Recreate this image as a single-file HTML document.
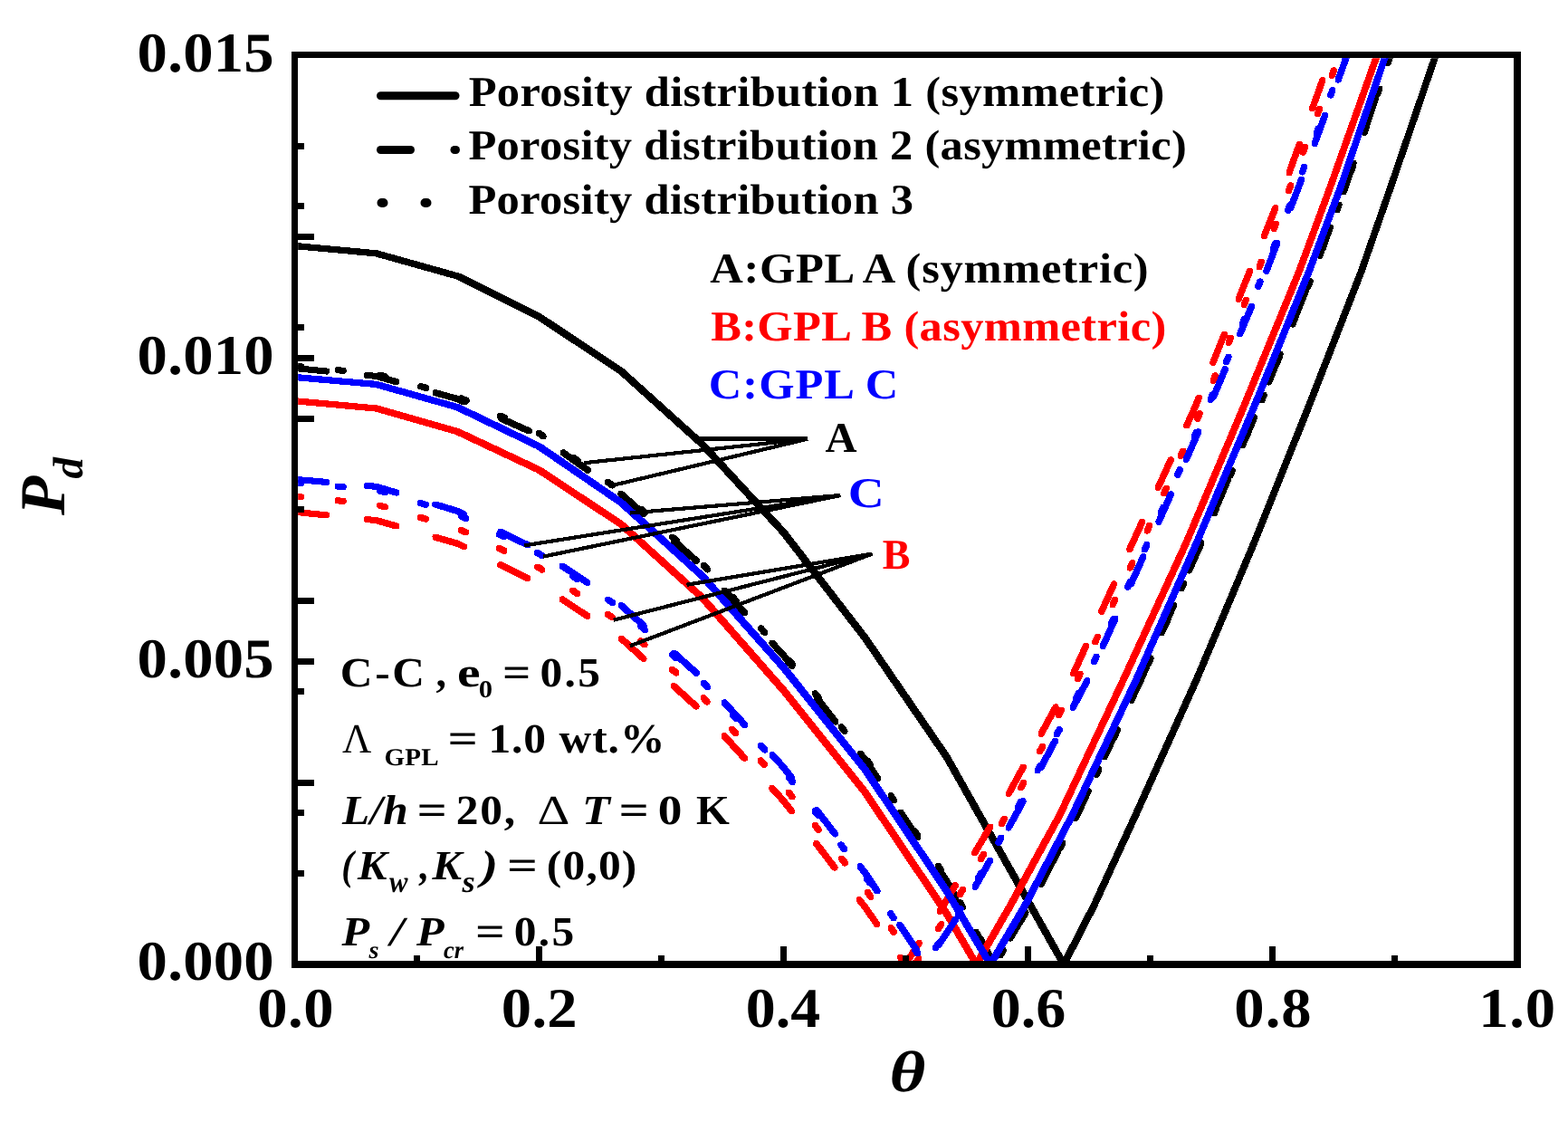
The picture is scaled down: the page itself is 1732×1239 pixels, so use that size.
<!DOCTYPE html>
<html lang="en"><head><meta charset="utf-8"><title>Pd versus theta</title>
<style>html,body{margin:0;padding:0;background:#fff;}svg{display:block;}</style></head>
<body>
<svg role="img" aria-label="Pd versus theta for three porosity distributions and three GPL patterns" width="1732" height="1239" viewBox="0 0 1732 1239" font-family="'Liberation Serif','DejaVu Serif',serif" text-rendering="geometricPrecision">
<rect width="1732" height="1239" fill="#fff"/>
<defs><clipPath id="plot"><rect x="329.2" y="64.2" width="1343.0" height="999.1"/></clipPath></defs>
<g clip-path="url(#plot)" stroke="none" shape-rendering="crispEdges">
<path d="M322.0,269.9 322.3,268.9 322.9,268.3 323.9,268.0 327.1,268.0 417.1,276.3 418.1,276.6 418.8,277.2 419.0,278.2 419.0,281.4 418.8,282.4 418.1,283.0 417.1,283.3 413.9,283.3 323.9,275.0 322.9,274.7 322.3,274.1 322.0,273.1ZM412.0,278.2 412.3,277.2 413.0,276.6 413.9,276.3 417.1,276.3 418.1,276.6 508.1,301.8 508.8,302.4 509.1,303.4 509.1,306.6 508.8,307.6 508.1,308.2 507.2,308.5 503.9,308.5 503.0,308.2 413.0,283.0 412.3,282.4 412.0,281.4ZM502.1,303.4 502.3,302.4 503.0,301.8 503.9,301.5 507.2,301.5 508.1,301.8 598.1,346.6 598.8,347.2 599.1,348.2 599.1,351.4 598.8,352.4 598.1,353.0 597.2,353.3 594.0,353.3 593.0,353.0 503.0,308.2 502.3,307.6 502.1,306.6ZM592.1,348.2 592.3,347.2 593.0,346.6 594.0,346.3 597.2,346.3 598.1,346.6 688.2,406.3 688.9,406.9 689.1,407.9 689.1,411.1 688.9,412.1 688.2,412.7 687.2,413.0 684.0,413.0 683.1,412.7 593.0,353.0 592.3,352.4 592.1,351.4ZM682.1,407.9 682.4,406.9 683.1,406.3 684.0,406.0 687.2,406.0 688.2,406.3 778.2,487.3 778.9,487.9 779.1,488.9 779.1,492.1 778.9,493.1 778.2,493.7 777.2,494.0 774.0,494.0 773.1,493.7 683.1,412.7 682.4,412.1 682.1,411.1ZM772.1,488.9 772.4,487.9 773.1,487.3 774.0,487.0 777.2,487.0 778.2,487.3 778.9,487.9 868.9,585.4 869.2,586.4 869.2,589.6 868.9,590.6 868.2,591.2 867.3,591.5 864.0,591.5 863.1,591.2 862.4,590.6 772.4,493.1 772.1,492.1ZM862.2,586.4 862.4,585.4 863.1,584.8 864.0,584.5 867.3,584.5 868.2,584.8 868.9,585.4 958.9,701.9 959.2,702.9 959.2,706.1 958.9,707.1 958.2,707.7 957.3,708.0 954.1,708.0 953.1,707.7 952.4,707.1 862.4,590.6 862.2,589.6ZM952.2,702.9 952.4,701.9 953.1,701.3 954.1,701.0 957.3,701.0 958.2,701.3 958.9,701.9 1049.0,833.4 1049.2,834.4 1049.2,837.6 1049.0,838.6 1048.3,839.2 1047.3,839.5 1044.1,839.5 1043.2,839.2 1042.5,838.6 952.4,707.1 952.2,706.1ZM1042.2,834.4 1042.5,833.4 1043.2,832.8 1044.1,832.5 1047.3,832.5 1048.3,832.8 1049.0,833.4 1178.2,1062.4 1178.5,1063.4 1178.5,1066.6 1178.2,1067.6 1177.6,1068.2 1176.6,1068.5 1173.4,1068.5 1172.4,1068.2 1171.8,1067.6 1042.5,838.6 1042.2,837.6ZM1171.5,1063.4 1171.8,1062.4 1205.2,997.4 1205.8,996.8 1206.8,996.5 1210.0,996.5 1211.0,996.8 1211.6,997.4 1211.9,998.4 1211.9,1001.6 1211.6,1002.6 1178.2,1067.6 1177.6,1068.2 1176.6,1068.5 1173.4,1068.5 1172.4,1068.2 1171.8,1067.6 1171.5,1066.6ZM1204.9,998.4 1205.2,997.4 1251.2,897.4 1251.8,896.8 1252.8,896.5 1256.0,896.5 1257.0,896.8 1257.6,897.4 1257.9,898.4 1257.9,901.6 1257.6,902.6 1211.6,1002.6 1211.0,1003.2 1210.0,1003.5 1206.8,1003.5 1205.8,1003.2 1205.2,1002.6 1204.9,1001.6ZM1250.9,898.4 1251.2,897.4 1318.7,747.4 1319.3,746.8 1320.3,746.5 1323.5,746.5 1324.5,746.8 1325.1,747.4 1325.4,748.4 1325.4,751.6 1325.1,752.6 1257.6,902.6 1257.0,903.2 1256.0,903.5 1252.8,903.5 1251.8,903.2 1251.2,902.6 1250.9,901.6ZM1318.4,748.4 1318.7,747.4 1381.8,597.4 1382.4,596.8 1383.4,596.5 1386.6,596.5 1387.6,596.8 1388.2,597.4 1388.5,598.4 1388.5,601.6 1388.2,602.6 1325.1,752.6 1324.5,753.2 1323.5,753.5 1320.3,753.5 1319.3,753.2 1318.7,752.6 1318.4,751.6ZM1381.5,598.4 1381.8,597.4 1441.9,447.4 1442.5,446.8 1443.5,446.5 1446.7,446.5 1447.7,446.8 1448.3,447.4 1448.6,448.4 1448.6,451.6 1448.3,452.6 1388.2,602.6 1387.6,603.2 1386.6,603.5 1383.4,603.5 1382.4,603.2 1381.8,602.6 1381.5,601.6ZM1441.6,448.4 1441.9,447.4 1500.4,297.4 1501.0,296.8 1502.0,296.5 1505.2,296.5 1506.2,296.8 1506.8,297.4 1507.1,298.4 1507.1,301.6 1506.8,302.6 1448.3,452.6 1447.7,453.2 1446.7,453.5 1443.5,453.5 1442.5,453.2 1441.9,452.6 1441.6,451.6ZM1500.1,298.4 1500.4,297.4 1532.8,204.4 1533.4,203.8 1534.4,203.5 1537.6,203.5 1538.6,203.8 1539.2,204.4 1539.5,205.4 1539.5,208.6 1539.2,209.6 1506.8,302.6 1506.2,303.2 1505.2,303.5 1502.0,303.5 1501.0,303.2 1500.4,302.6 1500.1,301.6ZM1532.5,205.4 1532.8,204.4 1581.6,61.4 1582.2,60.8 1583.2,60.5 1586.4,60.5 1587.4,60.8 1588.0,61.4 1588.3,62.4 1588.3,65.6 1588.0,66.6 1539.2,209.6 1538.6,210.2 1537.6,210.5 1534.4,210.5 1533.4,210.2 1532.8,209.6 1532.5,208.6ZM1581.3,62.4 1581.6,61.4 1596.6,17.4 1597.3,16.8 1598.2,16.5 1601.4,16.5 1602.4,16.8 1603.1,17.4 1603.3,18.4 1603.3,21.6 1603.1,22.6 1588.0,66.6 1587.4,67.2 1586.4,67.5 1583.2,67.5 1582.2,67.2 1581.6,66.6 1581.3,65.6Z" fill="#000"/>
<path d="M324.0,405.9 324.2,404.8 324.8,404.0 325.6,403.4 326.6,403.2 328.3,403.2 361.5,406.5 362.5,406.7 363.4,407.3 363.9,408.1 364.1,409.1 364.1,410.8 363.9,411.8 363.4,412.7 362.5,413.3 361.5,413.5 359.8,413.5 326.6,410.2 325.6,410.0 324.8,409.4 324.2,408.6 324.0,407.5ZM401.9,413.6 402.1,412.5 402.7,411.7 403.6,411.1 404.6,410.9 406.2,410.9 416.4,411.9 417.4,412.1 418.2,412.7 418.8,413.5 419.0,414.6 419.0,416.2 418.8,417.3 418.2,418.1 417.4,418.7 416.4,418.9 414.7,418.9 404.6,417.9 403.6,417.7 402.7,417.1 402.1,416.3 401.9,415.2ZM412.0,414.6 412.2,413.5 412.8,412.7 413.7,412.1 414.7,411.9 416.4,411.9 417.4,412.1 439.7,418.3 440.5,418.9 441.1,419.8 441.3,420.8 441.3,422.5 441.1,423.5 440.5,424.4 439.7,424.9 438.6,425.1 437.0,425.1 435.9,424.9 413.7,418.7 412.8,418.1 412.2,417.3 412.0,416.2ZM477.6,432.9 477.8,431.9 478.4,431.0 479.3,430.5 480.3,430.3 482.0,430.3 483.0,430.5 507.4,437.3 508.3,437.9 508.9,438.7 509.1,439.8 509.1,441.4 508.9,442.5 508.3,443.3 507.4,443.9 506.4,444.1 504.7,444.1 503.7,443.9 479.3,437.1 478.4,436.5 477.8,435.6 477.6,434.6ZM502.1,439.8 502.3,438.7 502.8,437.9 503.7,437.3 504.7,437.1 506.4,437.1 507.4,437.3 514.7,440.6 515.5,441.1 516.1,442.0 516.3,443.0 516.3,444.7 516.1,445.7 515.5,446.6 514.7,447.2 513.6,447.4 512.0,447.4 510.9,447.2 503.7,443.9 502.8,443.3 502.3,442.5 502.1,441.4ZM550.4,461.4 550.6,460.4 551.1,459.6 552.0,459.0 553.0,458.8 554.7,458.8 555.7,459.0 586.1,472.6 587.0,473.2 587.5,474.1 587.7,475.1 587.7,476.8 587.5,477.8 587.0,478.6 586.1,479.2 585.1,479.4 583.4,479.4 582.4,479.2 552.0,465.6 551.1,465.0 550.6,464.1 550.4,463.1ZM618.6,499.0 618.8,498.0 619.4,497.2 620.3,496.6 621.3,496.4 623.0,496.4 624.0,496.6 624.8,497.2 652.0,516.4 652.6,517.3 652.8,518.3 652.8,520.0 652.6,521.0 652.0,521.9 651.1,522.5 650.1,522.7 648.4,522.7 647.4,522.5 646.5,521.9 619.4,502.6 618.8,501.7 618.6,500.7ZM682.4,544.4 682.6,543.4 683.2,542.6 684.1,542.0 685.1,541.8 686.8,541.8 687.8,542.0 688.6,542.6 713.5,564.7 714.1,565.5 714.3,566.6 714.3,568.2 714.1,569.3 713.5,570.1 712.7,570.7 711.6,570.9 710.0,570.9 709.0,570.7 708.1,570.1 683.2,548.0 682.6,547.1 682.4,546.1ZM740.9,596.4 741.1,595.4 741.7,594.6 742.6,594.0 743.6,593.8 745.3,593.8 746.3,594.0 747.2,594.6 772.1,616.7 772.6,617.5 772.8,618.6 772.8,620.2 772.6,621.3 772.1,622.1 771.2,622.7 770.2,622.9 768.5,622.9 767.5,622.7 766.6,622.1 741.7,600.0 741.1,599.1 740.9,598.1ZM796.7,651.2 796.9,650.2 797.5,649.3 798.4,648.8 799.4,648.6 801.1,648.6 802.1,648.8 803.0,649.3 825.4,674.0 825.9,674.8 826.1,675.9 826.1,677.5 825.9,678.6 825.4,679.4 824.5,680.0 823.5,680.2 821.8,680.2 820.8,680.0 819.9,679.4 797.5,654.8 796.9,653.9 796.7,652.9ZM849.4,709.2 849.6,708.1 850.2,707.3 851.1,706.7 852.1,706.5 853.8,706.5 854.8,706.7 855.6,707.3 868.4,721.3 869.0,722.1 869.2,723.2 869.2,724.8 869.0,725.9 868.4,726.7 867.5,727.3 866.5,727.5 864.8,727.5 863.8,727.3 862.9,726.7 850.2,712.7 849.6,711.9 849.4,710.8ZM862.2,723.2 862.4,722.1 862.9,721.3 863.8,720.7 864.8,720.5 866.5,720.5 867.5,720.7 868.4,721.3 877.2,732.6 877.8,733.5 878.0,734.5 878.0,736.2 877.8,737.2 877.2,738.0 876.4,738.6 875.4,738.8 873.7,738.8 872.7,738.6 871.8,738.0 862.9,726.7 862.4,725.9 862.2,724.8ZM898.8,769.9 899.0,768.9 899.5,768.0 900.4,767.4 901.4,767.2 903.1,767.2 904.1,767.4 905.0,768.0 925.5,794.2 926.1,795.1 926.3,796.1 926.3,797.8 926.1,798.8 925.5,799.7 924.6,800.3 923.6,800.5 921.9,800.5 920.9,800.3 920.1,799.7 899.5,773.5 899.0,772.6 898.8,771.6ZM947.0,831.6 947.2,830.5 947.8,829.7 948.7,829.1 949.7,828.9 951.4,828.9 952.4,829.1 953.2,829.7 958.4,836.3 959.0,837.1 959.2,838.2 959.2,839.8 959.0,840.9 958.4,841.7 957.5,842.3 956.5,842.5 954.8,842.5 953.8,842.3 953.0,841.7 947.8,835.1 947.2,834.3 947.0,833.2ZM952.2,838.2 952.4,837.1 953.0,836.3 953.8,835.7 954.8,835.5 956.5,835.5 957.5,835.7 958.4,836.3 972.3,857.0 972.9,857.8 973.1,858.8 973.1,860.5 972.9,861.5 972.3,862.4 971.4,863.0 970.4,863.2 968.7,863.2 967.7,863.0 966.9,862.4 953.0,841.7 952.4,840.9 952.2,839.8ZM991.2,896.2 991.4,895.2 992.0,894.3 992.8,893.7 993.8,893.5 995.5,893.5 996.5,893.7 997.4,894.3 1016.0,922.0 1016.5,922.8 1016.7,923.8 1016.7,925.5 1016.5,926.5 1016.0,927.4 1015.1,928.0 1014.1,928.2 1012.4,928.2 1011.4,928.0 1010.5,927.4 992.0,899.8 991.4,898.9 991.2,897.9ZM1034.8,961.2 1035.0,960.2 1035.6,959.3 1036.5,958.7 1037.5,958.5 1039.2,958.5 1040.2,958.7 1041.1,959.3 1048.4,970.3 1049.0,971.1 1049.2,972.2 1049.2,973.8 1049.0,974.9 1048.4,975.7 1047.6,976.3 1046.6,976.5 1044.9,976.5 1043.9,976.3 1043.0,975.7 1035.6,964.8 1035.0,963.9 1034.8,962.9ZM1042.2,972.2 1042.4,971.1 1043.0,970.3 1043.9,969.7 1044.9,969.5 1046.6,969.5 1047.6,969.7 1048.4,970.3 1049.0,971.1 1059.0,988.6 1059.2,989.6 1059.2,991.3 1059.0,992.3 1058.4,993.1 1057.6,993.7 1056.6,993.9 1054.9,993.9 1053.9,993.7 1053.0,993.1 1052.4,992.3 1042.4,974.9 1042.2,973.8ZM1074.7,1028.6 1074.9,1027.6 1075.4,1026.7 1076.3,1026.1 1077.3,1025.9 1079.0,1025.9 1080.0,1026.1 1080.9,1026.7 1081.5,1027.6 1098.1,1056.4 1098.3,1057.4 1098.3,1059.1 1098.1,1060.1 1097.5,1061.0 1096.6,1061.6 1095.6,1061.8 1093.9,1061.8 1092.9,1061.6 1092.0,1061.0 1091.5,1060.1 1074.9,1031.3 1074.7,1030.3ZM1112.4,1035.2 1112.6,1034.1 1129.7,1005.5 1130.3,1004.7 1131.1,1004.1 1132.1,1003.9 1133.8,1003.9 1134.8,1004.1 1135.7,1004.7 1136.3,1005.5 1136.5,1006.6 1136.5,1008.2 1136.3,1009.3 1119.2,1037.9 1118.6,1038.7 1117.8,1039.3 1116.8,1039.5 1115.1,1039.5 1114.1,1039.3 1113.2,1038.7 1112.6,1037.9 1112.4,1036.8ZM1149.4,969.6 1149.6,968.6 1165.0,939.0 1165.6,938.2 1166.4,937.6 1167.5,937.4 1169.1,937.4 1170.2,937.6 1171.0,938.2 1171.6,939.0 1171.8,940.1 1171.8,941.7 1171.6,942.8 1156.2,972.3 1155.6,973.1 1154.7,973.7 1153.7,973.9 1152.0,973.9 1151.0,973.7 1150.2,973.1 1149.6,972.3 1149.4,971.3ZM1184.3,902.9 1184.5,901.8 1186.4,898.1 1187.0,897.3 1187.8,896.7 1188.9,896.5 1190.5,896.5 1191.6,896.7 1192.4,897.3 1193.0,898.1 1193.2,899.2 1193.2,900.8 1193.0,901.9 1191.1,905.5 1190.5,906.4 1189.6,907.0 1188.6,907.2 1186.9,907.2 1185.9,907.0 1185.0,906.4 1184.5,905.5 1184.3,904.5ZM1186.2,899.2 1186.4,898.1 1198.8,871.8 1199.4,870.9 1200.3,870.4 1201.3,870.2 1203.0,870.2 1204.0,870.4 1204.9,870.9 1205.4,871.8 1205.6,872.8 1205.6,874.5 1205.4,875.5 1193.0,901.9 1192.4,902.7 1191.6,903.3 1190.5,903.5 1188.9,903.5 1187.8,903.3 1187.0,902.7 1186.4,901.9 1186.2,900.8ZM1216.6,834.8 1216.8,833.8 1231.0,803.7 1231.6,802.8 1232.4,802.3 1233.4,802.1 1235.1,802.1 1236.1,802.3 1237.0,802.8 1237.6,803.7 1237.8,804.7 1237.8,806.4 1237.6,807.4 1223.4,837.5 1222.8,838.4 1221.9,839.0 1220.9,839.2 1219.2,839.2 1218.2,839.0 1217.3,838.4 1216.8,837.5 1216.6,836.5ZM1248.7,766.7 1248.9,765.7 1257.2,748.1 1257.8,747.3 1258.6,746.7 1259.7,746.5 1261.3,746.5 1262.4,746.7 1263.2,747.3 1263.8,748.1 1264.0,749.2 1264.0,750.8 1263.8,751.9 1255.5,769.4 1254.9,770.3 1254.1,770.9 1253.0,771.1 1251.4,771.1 1250.3,770.9 1249.5,770.3 1248.9,769.4 1248.7,768.4ZM1257.0,749.2 1257.2,748.1 1262.8,735.5 1263.4,734.6 1264.2,734.0 1265.3,733.8 1266.9,733.8 1268.0,734.0 1268.8,734.6 1269.4,735.5 1269.6,736.5 1269.6,738.2 1269.4,739.2 1263.8,751.9 1263.2,752.7 1262.4,753.3 1261.3,753.5 1259.7,753.5 1258.6,753.3 1257.8,752.7 1257.2,751.9 1257.0,750.8ZM1279.6,698.0 1279.8,697.0 1293.2,666.6 1293.8,665.7 1294.6,665.1 1295.7,664.9 1297.3,664.9 1298.4,665.1 1299.2,665.7 1299.8,666.6 1300.0,667.6 1300.0,669.3 1299.8,670.3 1286.4,700.7 1285.8,701.6 1284.9,702.2 1283.9,702.4 1282.2,702.4 1281.2,702.2 1280.3,701.6 1279.8,700.7 1279.6,699.7ZM1310.0,629.2 1310.2,628.1 1323.4,598.1 1324.0,597.3 1324.8,596.7 1325.9,596.5 1327.5,596.5 1328.6,596.7 1329.4,597.3 1330.0,598.1 1330.2,599.2 1330.2,600.8 1330.0,601.9 1316.8,631.9 1316.2,632.7 1315.3,633.3 1314.3,633.5 1312.6,633.5 1311.6,633.3 1310.7,632.7 1310.2,631.9 1310.0,630.8ZM1323.2,599.2 1323.4,598.1 1323.6,597.7 1324.2,596.8 1325.0,596.2 1326.1,596.0 1327.7,596.0 1328.8,596.2 1329.6,596.8 1330.2,597.7 1330.4,598.7 1330.4,600.4 1330.2,601.4 1330.0,601.9 1329.4,602.7 1328.6,603.3 1327.5,603.5 1325.9,603.5 1324.8,603.3 1324.0,602.7 1323.4,601.9 1323.2,600.8ZM1339.7,560.0 1340.0,559.0 1352.9,528.3 1353.5,527.5 1354.4,526.9 1355.4,526.7 1357.1,526.7 1358.1,526.9 1358.9,527.5 1359.5,528.3 1359.7,529.3 1359.7,531.0 1359.5,532.0 1346.5,562.7 1346.0,563.6 1345.1,564.1 1344.1,564.3 1342.4,564.3 1341.4,564.1 1340.5,563.6 1340.0,562.7 1339.7,561.7ZM1369.1,490.6 1369.3,489.6 1382.2,459.0 1382.8,458.1 1383.7,457.5 1384.7,457.3 1386.4,457.3 1387.4,457.5 1388.2,458.1 1388.8,459.0 1389.0,460.0 1389.0,461.7 1388.8,462.7 1375.9,493.3 1375.3,494.2 1374.4,494.8 1373.4,495.0 1371.7,495.0 1370.7,494.8 1369.8,494.2 1369.3,493.3 1369.1,492.3ZM1398.0,421.1 1398.2,420.1 1410.7,389.3 1411.3,388.4 1412.2,387.8 1413.2,387.6 1414.8,387.6 1415.9,387.8 1416.7,388.4 1417.3,389.3 1417.5,390.3 1417.5,391.9 1417.3,393.0 1404.8,423.8 1404.2,424.7 1403.3,425.3 1402.3,425.5 1400.6,425.5 1399.6,425.3 1398.8,424.7 1398.2,423.8 1398.0,422.8ZM1426.3,351.4 1426.5,350.3 1439.0,319.5 1439.6,318.6 1440.5,318.0 1441.5,317.8 1443.2,317.8 1444.2,318.0 1445.1,318.6 1445.6,319.5 1445.8,320.5 1445.8,322.2 1445.6,323.2 1433.1,354.1 1432.5,354.9 1431.7,355.5 1430.6,355.7 1429.0,355.7 1428.0,355.5 1427.1,354.9 1426.5,354.1 1426.3,353.0ZM1454.2,281.4 1454.4,280.4 1466.1,249.2 1466.6,248.3 1467.5,247.8 1468.5,247.6 1470.2,247.6 1471.2,247.8 1472.1,248.3 1472.7,249.2 1472.9,250.2 1472.9,251.9 1472.7,252.9 1461.0,284.1 1460.4,285.0 1459.5,285.5 1458.5,285.7 1456.8,285.7 1455.8,285.5 1454.9,285.0 1454.4,284.1 1454.2,283.1ZM1480.6,210.9 1480.8,209.9 1482.6,205.1 1483.2,204.3 1484.0,203.7 1485.1,203.5 1486.7,203.5 1487.8,203.7 1488.6,204.3 1489.2,205.1 1489.4,206.2 1489.4,207.8 1489.2,208.9 1487.4,213.6 1486.8,214.5 1486.0,215.0 1485.0,215.2 1483.3,215.2 1482.3,215.0 1481.4,214.5 1480.8,213.6 1480.6,212.6ZM1482.4,206.2 1482.6,205.1 1491.7,178.4 1492.3,177.6 1493.2,177.0 1494.2,176.8 1495.9,176.8 1496.9,177.0 1497.8,177.6 1498.3,178.4 1498.5,179.4 1498.5,181.1 1498.3,182.1 1489.2,208.9 1488.6,209.7 1487.8,210.3 1486.7,210.5 1485.1,210.5 1484.0,210.3 1483.2,209.7 1482.6,208.9 1482.4,207.8ZM1505.1,139.7 1505.3,138.7 1516.1,107.2 1516.7,106.3 1517.5,105.7 1518.6,105.5 1520.2,105.5 1521.3,105.7 1522.1,106.3 1522.7,107.2 1522.9,108.2 1522.9,109.9 1522.7,110.9 1511.9,142.4 1511.3,143.3 1510.5,143.8 1509.5,144.0 1507.8,144.0 1506.8,143.8 1505.9,143.3 1505.3,142.4 1505.1,141.4ZM1529.5,68.5 1529.7,67.4 1531.5,62.1 1532.1,61.3 1532.9,60.7 1534.0,60.5 1535.6,60.5 1536.7,60.7 1537.5,61.3 1538.1,62.1 1538.3,63.2 1538.3,64.8 1538.1,65.9 1536.3,71.2 1535.7,72.0 1534.8,72.6 1533.8,72.8 1532.2,72.8 1531.1,72.6 1530.3,72.0 1529.7,71.2 1529.5,70.1ZM1531.3,63.2 1531.5,62.1 1540.5,35.9 1541.0,35.1 1541.9,34.5 1542.9,34.3 1544.6,34.3 1545.6,34.5 1546.5,35.1 1547.1,35.9 1547.3,36.9 1547.3,38.6 1547.1,39.6 1538.1,65.9 1537.5,66.7 1536.7,67.3 1535.6,67.5 1534.0,67.5 1532.9,67.3 1532.1,66.7 1531.5,65.9 1531.3,64.8Z" fill="#000"/>
<path d="M323.0,403.3 323.2,402.2 323.8,401.4 324.6,400.8 325.7,400.6 327.3,400.6 333.3,401.2 334.3,401.4 335.2,402.0 335.8,402.8 336.0,403.8 336.0,405.5 335.8,406.5 335.2,407.4 334.3,408.0 333.3,408.2 331.6,408.2 325.7,407.6 324.6,407.4 323.8,406.8 323.2,406.0 323.0,404.9ZM369.6,407.9 369.8,406.9 370.4,406.0 371.3,405.4 372.3,405.2 374.0,405.2 379.9,405.8 380.9,406.0 381.8,406.6 382.4,407.4 382.6,408.5 382.6,410.1 382.4,411.2 381.8,412.0 380.9,412.6 379.9,412.8 378.2,412.8 372.3,412.2 371.3,412.0 370.4,411.4 369.8,410.6 369.6,409.5ZM416.1,413.2 416.3,412.2 416.9,411.3 417.7,410.7 418.8,410.5 420.4,410.5 421.5,410.7 427.2,412.4 428.1,412.9 428.7,413.8 428.9,414.8 428.9,416.5 428.7,417.5 428.1,418.4 427.2,419.0 426.2,419.2 424.5,419.2 423.5,419.0 417.7,417.3 416.9,416.8 416.3,415.9 416.1,414.9ZM461.2,425.8 461.4,424.8 462.0,423.9 462.9,423.4 463.9,423.2 465.6,423.2 466.6,423.4 472.4,425.0 473.2,425.6 473.8,426.4 474.0,427.4 474.0,429.1 473.8,430.1 473.2,431.0 472.4,431.6 471.3,431.8 469.7,431.8 468.6,431.6 462.9,430.0 462.0,429.4 461.4,428.5 461.2,427.5ZM506.1,439.1 506.3,438.1 506.9,437.2 507.8,436.6 508.8,436.4 510.5,436.4 511.5,436.6 516.9,439.1 517.8,439.7 518.4,440.5 518.6,441.5 518.6,443.2 518.4,444.2 517.8,445.1 516.9,445.7 515.9,445.9 514.2,445.9 513.2,445.7 507.8,443.2 506.9,442.6 506.3,441.8 506.1,440.8ZM548.9,458.3 549.1,457.2 549.6,456.4 550.5,455.8 551.5,455.6 553.2,455.6 554.2,455.8 559.7,458.3 560.5,458.8 561.1,459.7 561.3,460.7 561.3,462.4 561.1,463.4 560.5,464.3 559.7,464.9 558.7,465.1 557.0,465.1 556.0,464.9 550.5,462.4 549.6,461.8 549.1,461.0 548.9,459.9ZM591.6,477.4 591.8,476.4 592.4,475.6 593.2,475.0 594.3,474.8 595.9,474.8 597.0,475.0 597.4,475.2 598.3,475.8 598.9,476.6 599.1,477.7 599.1,479.3 598.9,480.4 598.3,481.2 597.4,481.8 596.4,482.0 594.7,482.0 593.7,481.8 593.2,481.6 592.4,481.0 591.8,480.1 591.6,479.1ZM592.1,477.7 592.3,476.6 592.9,475.8 593.7,475.2 594.7,475.0 596.4,475.0 597.4,475.2 598.3,475.8 602.8,478.9 603.3,479.8 603.5,480.8 603.5,482.5 603.3,483.5 602.8,484.4 601.9,485.0 600.9,485.2 599.2,485.2 598.2,485.0 597.3,484.4 592.9,481.2 592.3,480.4 592.1,479.3ZM629.8,504.5 630.0,503.5 630.6,502.6 631.5,502.0 632.5,501.8 634.2,501.8 635.2,502.0 636.1,502.6 640.9,506.1 641.5,507.0 641.7,508.0 641.7,509.7 641.5,510.7 640.9,511.5 640.1,512.1 639.1,512.3 637.4,512.3 636.4,512.1 635.5,511.5 630.6,508.1 630.0,507.2 629.8,506.2ZM668.0,531.6 668.2,530.6 668.8,529.8 669.7,529.2 670.7,529.0 672.4,529.0 673.4,529.2 674.2,529.8 679.1,533.2 679.7,534.1 679.9,535.1 679.9,536.8 679.7,537.8 679.1,538.7 678.3,539.3 677.2,539.5 675.6,539.5 674.5,539.3 673.7,538.7 668.8,535.2 668.2,534.3 668.0,533.3ZM704.2,561.3 704.4,560.3 705.0,559.4 705.8,558.8 706.9,558.6 708.5,558.6 709.6,558.8 710.4,559.4 714.9,563.4 715.5,564.3 715.7,565.3 715.7,567.0 715.5,568.0 714.9,568.8 714.0,569.4 713.0,569.6 711.4,569.6 710.3,569.4 709.5,568.8 705.0,564.9 704.4,564.0 704.2,563.0ZM739.2,592.4 739.4,591.4 740.0,590.5 740.9,590.0 741.9,589.8 743.6,589.8 744.6,590.0 745.4,590.5 749.9,594.5 750.5,595.4 750.7,596.4 750.7,598.1 750.5,599.1 749.9,600.0 749.1,600.5 748.1,600.7 746.4,600.7 745.4,600.5 744.5,600.0 740.0,596.0 739.4,595.1 739.2,594.1ZM774.0,623.8 774.2,622.7 774.8,621.9 775.7,621.3 776.7,621.1 778.4,621.1 779.4,621.3 780.3,621.9 784.3,626.3 784.9,627.2 785.1,628.2 785.1,629.9 784.9,630.9 784.3,631.8 783.4,632.3 782.4,632.5 780.7,632.5 779.7,632.3 778.9,631.8 774.8,627.3 774.2,626.5 774.0,625.4ZM805.6,658.4 805.8,657.4 806.3,656.5 807.2,656.0 808.2,655.8 809.9,655.8 810.9,656.0 811.8,656.5 815.8,661.0 816.4,661.8 816.6,662.9 816.6,664.5 816.4,665.6 815.8,666.4 815.0,667.0 813.9,667.2 812.3,667.2 811.2,667.0 810.4,666.4 806.3,662.0 805.8,661.1 805.6,660.1ZM837.1,693.1 837.3,692.1 837.9,691.2 838.7,690.6 839.7,690.4 841.4,690.4 842.4,690.6 843.3,691.2 847.3,695.6 847.9,696.5 848.1,697.5 848.1,699.2 847.9,700.2 847.3,701.1 846.5,701.7 845.5,701.9 843.8,701.9 842.8,701.7 841.9,701.1 837.9,696.6 837.3,695.8 837.1,694.8ZM868.1,728.2 868.3,727.2 868.8,726.3 869.7,725.7 870.7,725.5 872.4,725.5 873.4,725.7 874.3,726.3 878.0,731.0 878.6,731.9 878.8,732.9 878.8,734.6 878.6,735.6 878.0,736.5 877.1,737.1 876.1,737.3 874.4,737.3 873.4,737.1 872.5,736.5 868.8,731.8 868.3,730.9 868.1,729.9ZM896.9,765.1 897.1,764.1 897.7,763.2 898.6,762.6 899.6,762.4 901.3,762.4 902.3,762.6 903.2,763.2 906.9,767.9 907.4,768.8 907.6,769.8 907.6,771.5 907.4,772.5 906.9,773.4 906.0,773.9 905.0,774.1 903.3,774.1 902.3,773.9 901.4,773.4 897.7,768.6 897.1,767.8 896.9,766.8ZM925.8,802.0 926.0,801.0 926.6,800.1 927.5,799.5 928.5,799.3 930.2,799.3 931.2,799.5 932.0,800.1 935.7,804.8 936.3,805.7 936.5,806.7 936.5,808.4 936.3,809.4 935.7,810.3 934.9,810.8 933.9,811.0 932.2,811.0 931.2,810.8 930.3,810.3 926.6,805.5 926.0,804.7 925.8,803.7ZM954.5,839.0 954.7,838.0 955.2,837.2 956.1,836.6 957.1,836.4 958.8,836.4 959.8,836.6 960.7,837.2 964.0,842.1 964.6,843.0 964.8,844.0 964.8,845.7 964.6,846.7 964.0,847.6 963.2,848.2 962.1,848.4 960.5,848.4 959.4,848.2 958.6,847.6 955.2,842.6 954.7,841.7 954.5,840.7ZM980.6,877.9 980.8,876.9 981.4,876.0 982.2,875.5 983.2,875.3 984.9,875.3 985.9,875.5 986.8,876.0 990.1,881.0 990.7,881.9 990.9,882.9 990.9,884.6 990.7,885.6 990.1,886.5 989.3,887.0 988.3,887.2 986.6,887.2 985.6,887.0 984.7,886.5 981.4,881.5 980.8,880.6 980.6,879.6ZM1006.7,916.8 1006.9,915.8 1007.5,914.9 1008.4,914.4 1009.4,914.2 1011.0,914.2 1012.1,914.4 1012.9,914.9 1016.3,919.9 1016.9,920.8 1017.1,921.8 1017.1,923.5 1016.9,924.5 1016.3,925.4 1015.4,925.9 1014.4,926.1 1012.7,926.1 1011.7,925.9 1010.8,925.4 1007.5,920.4 1006.9,919.5 1006.7,918.5ZM1032.8,955.7 1033.0,954.7 1033.6,953.8 1034.5,953.2 1035.5,953.0 1037.2,953.0 1038.2,953.2 1039.1,953.8 1042.4,958.8 1043.0,959.7 1043.2,960.7 1043.2,962.4 1043.0,963.4 1042.4,964.2 1041.5,964.8 1040.5,965.0 1038.8,965.0 1037.8,964.8 1037.0,964.2 1033.6,959.3 1033.0,958.4 1032.8,957.4ZM1056.9,995.8 1057.1,994.8 1057.7,994.0 1058.6,993.4 1059.6,993.2 1061.3,993.2 1062.3,993.4 1063.2,994.0 1063.7,994.8 1066.7,1000.0 1066.9,1001.1 1066.9,1002.7 1066.7,1003.8 1066.1,1004.6 1065.2,1005.2 1064.2,1005.4 1062.5,1005.4 1061.5,1005.2 1060.7,1004.6 1060.1,1003.8 1057.1,998.5 1056.9,997.5ZM1079.9,1036.7 1080.1,1035.7 1080.7,1034.8 1081.5,1034.2 1082.6,1034.0 1084.2,1034.0 1085.3,1034.2 1086.1,1034.8 1086.7,1035.7 1089.6,1040.9 1089.8,1041.9 1089.8,1043.6 1089.6,1044.6 1089.1,1045.5 1088.2,1046.0 1087.2,1046.2 1085.5,1046.2 1084.5,1046.0 1083.6,1045.5 1083.0,1044.6 1080.1,1039.4 1079.9,1038.4ZM1101.6,1053.7 1101.8,1052.7 1104.9,1047.6 1105.5,1046.7 1106.3,1046.1 1107.3,1045.9 1109.0,1045.9 1110.0,1046.1 1110.9,1046.7 1111.5,1047.6 1111.7,1048.6 1111.7,1050.3 1111.5,1051.3 1108.4,1056.4 1107.8,1057.3 1107.0,1057.9 1105.9,1058.1 1104.3,1058.1 1103.2,1057.9 1102.4,1057.3 1101.8,1056.4 1101.6,1055.4ZM1124.8,1015.0 1125.0,1013.9 1128.1,1008.8 1128.7,1007.9 1129.6,1007.4 1130.6,1007.2 1132.3,1007.2 1133.3,1007.4 1134.1,1007.9 1134.7,1008.8 1134.9,1009.8 1134.9,1011.5 1134.7,1012.5 1131.6,1017.7 1131.1,1018.5 1130.2,1019.1 1129.2,1019.3 1127.5,1019.3 1126.5,1019.1 1125.6,1018.5 1125.0,1017.7 1124.8,1016.6ZM1146.7,975.4 1146.9,974.4 1149.7,969.1 1150.3,968.2 1151.1,967.7 1152.2,967.5 1153.8,967.5 1154.9,967.7 1155.7,968.2 1156.3,969.1 1156.5,970.1 1156.5,971.8 1156.3,972.8 1153.5,978.1 1152.9,979.0 1152.1,979.6 1151.1,979.8 1149.4,979.8 1148.4,979.6 1147.5,979.0 1146.9,978.1 1146.7,977.1ZM1167.7,935.4 1167.9,934.4 1170.6,929.0 1171.2,928.2 1172.1,927.6 1173.1,927.4 1174.8,927.4 1175.8,927.6 1176.7,928.2 1177.2,929.0 1177.4,930.1 1177.4,931.7 1177.2,932.8 1174.5,938.1 1173.9,938.9 1173.0,939.5 1172.0,939.7 1170.3,939.7 1169.3,939.5 1168.4,938.9 1167.9,938.1 1167.7,937.1ZM1188.4,895.2 1188.7,894.2 1191.2,888.8 1191.8,887.9 1192.7,887.4 1193.7,887.2 1195.3,887.2 1196.4,887.4 1197.2,887.9 1197.8,888.8 1198.0,889.8 1198.0,891.5 1197.8,892.5 1195.2,897.9 1194.7,898.8 1193.8,899.4 1192.8,899.6 1191.1,899.6 1190.1,899.4 1189.2,898.8 1188.7,897.9 1188.4,896.9ZM1207.7,854.4 1207.9,853.3 1210.5,847.9 1211.1,847.1 1211.9,846.5 1213.0,846.3 1214.6,846.3 1215.7,846.5 1216.5,847.1 1217.1,847.9 1217.3,848.9 1217.3,850.6 1217.1,851.6 1214.5,857.1 1214.0,857.9 1213.1,858.5 1212.1,858.7 1210.4,858.7 1209.4,858.5 1208.5,857.9 1207.9,857.1 1207.7,856.0ZM1227.0,813.5 1227.2,812.5 1229.8,807.0 1230.4,806.2 1231.2,805.6 1232.3,805.4 1233.9,805.4 1235.0,805.6 1235.8,806.2 1236.4,807.0 1236.6,808.1 1236.6,809.7 1236.4,810.8 1233.8,816.2 1233.3,817.1 1232.4,817.6 1231.4,817.8 1229.7,817.8 1228.7,817.6 1227.8,817.1 1227.2,816.2 1227.0,815.2ZM1246.3,772.6 1246.5,771.6 1249.1,766.2 1249.7,765.3 1250.5,764.7 1251.5,764.5 1253.2,764.5 1254.2,764.7 1255.1,765.3 1255.7,766.2 1255.9,767.2 1255.9,768.9 1255.7,769.9 1253.1,775.3 1252.5,776.2 1251.7,776.8 1250.7,777.0 1249.0,777.0 1248.0,776.8 1247.1,776.2 1246.5,775.3 1246.3,774.3ZM1265.2,731.5 1265.4,730.5 1267.8,725.0 1268.4,724.2 1269.2,723.6 1270.3,723.4 1271.9,723.4 1273.0,723.6 1273.8,724.2 1274.4,725.0 1274.6,726.0 1274.6,727.7 1274.4,728.7 1272.0,734.2 1271.4,735.1 1270.5,735.7 1269.5,735.9 1267.8,735.9 1266.8,735.7 1266.0,735.1 1265.4,734.2 1265.2,733.2ZM1283.4,690.2 1283.6,689.2 1286.1,683.7 1286.6,682.8 1287.5,682.2 1288.5,682.0 1290.2,682.0 1291.2,682.2 1292.1,682.8 1292.6,683.7 1292.8,684.7 1292.8,686.4 1292.6,687.4 1290.2,692.9 1289.6,693.7 1288.8,694.3 1287.8,694.5 1286.1,694.5 1285.1,694.3 1284.2,693.7 1283.6,692.9 1283.4,691.9ZM1301.7,648.8 1301.9,647.8 1304.3,642.3 1304.9,641.5 1305.7,640.9 1306.8,640.7 1308.4,640.7 1309.5,640.9 1310.3,641.5 1310.9,642.3 1311.1,643.3 1311.1,645.0 1310.9,646.0 1308.5,651.5 1307.9,652.4 1307.0,653.0 1306.0,653.2 1304.3,653.2 1303.3,653.0 1302.5,652.4 1301.9,651.5 1301.7,650.5ZM1319.9,607.5 1320.1,606.5 1322.6,601.0 1323.1,600.1 1324.0,599.5 1325.0,599.3 1326.7,599.3 1327.7,599.5 1328.6,600.1 1329.1,601.0 1329.3,602.0 1329.3,603.7 1329.1,604.7 1326.7,610.2 1326.1,611.0 1325.3,611.6 1324.3,611.8 1322.6,611.8 1321.6,611.6 1320.7,611.0 1320.1,610.2 1319.9,609.2ZM1337.7,565.9 1337.9,564.9 1340.2,559.4 1340.8,558.5 1341.6,557.9 1342.7,557.7 1344.3,557.7 1345.3,557.9 1346.2,558.5 1346.8,559.4 1347.0,560.4 1347.0,562.1 1346.8,563.1 1344.5,568.6 1343.9,569.5 1343.0,570.0 1342.0,570.2 1340.3,570.2 1339.3,570.0 1338.4,569.5 1337.9,568.6 1337.7,567.6ZM1355.3,524.3 1355.5,523.3 1357.8,517.7 1358.4,516.9 1359.2,516.3 1360.2,516.1 1361.9,516.1 1362.9,516.3 1363.8,516.9 1364.4,517.7 1364.6,518.7 1364.6,520.4 1364.4,521.4 1362.1,527.0 1361.5,527.8 1360.6,528.4 1359.6,528.6 1357.9,528.6 1356.9,528.4 1356.0,527.8 1355.5,527.0 1355.3,526.0ZM1372.8,482.6 1373.1,481.6 1375.4,476.1 1376.0,475.2 1376.8,474.7 1377.8,474.4 1379.5,474.4 1380.5,474.7 1381.4,475.2 1382.0,476.1 1382.2,477.1 1382.2,478.8 1382.0,479.8 1379.6,485.3 1379.1,486.2 1378.2,486.8 1377.2,487.0 1375.5,487.0 1374.5,486.8 1373.6,486.2 1373.1,485.3 1372.8,484.3ZM1390.3,441.0 1390.5,439.9 1392.8,434.4 1393.4,433.5 1394.2,432.9 1395.2,432.7 1396.9,432.7 1397.9,432.9 1398.8,433.5 1399.4,434.4 1399.6,435.4 1399.6,437.1 1399.4,438.1 1397.1,443.7 1396.6,444.5 1395.7,445.1 1394.7,445.3 1393.0,445.3 1392.0,445.1 1391.1,444.5 1390.5,443.7 1390.3,442.6ZM1407.3,399.1 1407.5,398.1 1409.8,392.5 1410.4,391.6 1411.2,391.1 1412.3,390.9 1413.9,390.9 1415.0,391.1 1415.8,391.6 1416.4,392.5 1416.6,393.5 1416.6,395.2 1416.4,396.2 1414.1,401.8 1413.6,402.6 1412.7,403.2 1411.7,403.4 1410.0,403.4 1409.0,403.2 1408.1,402.6 1407.5,401.8 1407.3,400.8ZM1424.3,357.2 1424.5,356.2 1426.8,350.6 1427.4,349.8 1428.2,349.2 1429.3,349.0 1430.9,349.0 1432.0,349.2 1432.8,349.8 1433.4,350.6 1433.6,351.6 1433.6,353.3 1433.4,354.3 1431.1,359.9 1430.6,360.8 1429.7,361.3 1428.7,361.5 1427.0,361.5 1426.0,361.3 1425.1,360.8 1424.5,359.9 1424.3,358.9ZM1441.3,315.3 1441.5,314.3 1443.8,308.7 1444.4,307.9 1445.2,307.3 1446.3,307.1 1447.9,307.1 1449.0,307.3 1449.8,307.9 1450.4,308.7 1450.6,309.8 1450.6,311.4 1450.4,312.5 1448.1,318.0 1447.6,318.9 1446.7,319.5 1445.7,319.7 1444.0,319.7 1443.0,319.5 1442.1,318.9 1441.5,318.0 1441.3,317.0ZM1457.7,273.2 1457.9,272.1 1460.0,266.5 1460.5,265.7 1461.4,265.1 1462.4,264.9 1464.1,264.9 1465.1,265.1 1466.0,265.7 1466.6,266.5 1466.8,267.5 1466.8,269.2 1466.6,270.2 1464.5,275.9 1463.9,276.7 1463.0,277.3 1462.0,277.5 1460.3,277.5 1459.3,277.3 1458.4,276.7 1457.9,275.9 1457.7,274.8ZM1473.5,230.8 1473.7,229.8 1475.8,224.2 1476.4,223.3 1477.3,222.8 1478.3,222.6 1480.0,222.6 1481.0,222.8 1481.9,223.3 1482.4,224.2 1482.6,225.2 1482.6,226.9 1482.4,227.9 1480.3,233.5 1479.8,234.4 1478.9,235.0 1477.9,235.2 1476.2,235.2 1475.2,235.0 1474.3,234.4 1473.7,233.5 1473.5,232.5ZM1488.9,188.3 1489.1,187.3 1491.0,181.6 1491.6,180.8 1492.5,180.2 1493.5,180.0 1495.2,180.0 1496.2,180.2 1497.1,180.8 1497.6,181.6 1497.8,182.7 1497.8,184.3 1497.6,185.4 1495.7,191.0 1495.1,191.9 1494.3,192.5 1493.2,192.7 1491.6,192.7 1490.5,192.5 1489.7,191.9 1489.1,191.0 1488.9,190.0ZM1503.5,145.6 1503.7,144.6 1505.7,138.9 1506.2,138.0 1507.1,137.4 1508.1,137.2 1509.8,137.2 1510.8,137.4 1511.7,138.0 1512.3,138.9 1512.5,139.9 1512.5,141.6 1512.3,142.6 1510.3,148.3 1509.7,149.1 1508.9,149.7 1507.9,149.9 1506.2,149.9 1505.2,149.7 1504.3,149.1 1503.7,148.3 1503.5,147.3ZM1518.1,102.8 1518.3,101.8 1520.3,96.1 1520.9,95.2 1521.7,94.7 1522.7,94.5 1524.4,94.5 1525.4,94.7 1526.3,95.2 1526.9,96.1 1527.1,97.1 1527.1,98.8 1526.9,99.8 1524.9,105.5 1524.4,106.4 1523.5,106.9 1522.5,107.1 1520.8,107.1 1519.8,106.9 1518.9,106.4 1518.3,105.5 1518.1,104.5ZM1532.8,60.0 1533.0,59.0 1534.9,53.3 1535.5,52.5 1536.4,51.9 1537.4,51.7 1539.0,51.7 1540.1,51.9 1540.9,52.5 1541.5,53.3 1541.7,54.4 1541.7,56.0 1541.5,57.1 1539.6,62.7 1539.0,63.6 1538.1,64.2 1537.1,64.4 1535.4,64.4 1534.4,64.2 1533.5,63.6 1533.0,62.7 1532.8,61.7Z" fill="#000"/>
<path d="M322.0,441.1 322.3,440.1 322.9,439.5 323.9,439.2 327.1,439.2 417.1,447.5 418.1,447.8 418.8,448.4 419.0,449.4 419.0,452.6 418.8,453.6 418.1,454.2 417.1,454.5 413.9,454.5 323.9,446.2 322.9,445.9 322.3,445.3 322.0,444.3ZM412.0,449.4 412.3,448.4 413.0,447.8 413.9,447.5 417.1,447.5 418.1,447.8 508.1,473.5 508.8,474.1 509.1,475.1 509.1,478.3 508.8,479.3 508.1,479.9 507.2,480.2 503.9,480.2 503.0,479.9 413.0,454.2 412.3,453.6 412.0,452.6ZM502.1,475.1 502.3,474.1 503.0,473.5 503.9,473.2 507.2,473.2 508.1,473.5 598.1,515.8 598.8,516.4 599.1,517.4 599.1,520.6 598.8,521.6 598.1,522.2 597.2,522.5 594.0,522.5 593.0,522.2 503.0,479.9 502.3,479.3 502.1,478.3ZM592.1,517.4 592.3,516.4 593.0,515.8 594.0,515.5 597.2,515.5 598.1,515.8 688.2,575.4 688.9,576.0 689.1,577.0 689.1,580.2 688.9,581.2 688.2,581.8 687.2,582.1 684.0,582.1 683.1,581.8 593.0,522.2 592.3,521.6 592.1,520.6ZM682.1,577.0 682.4,576.0 683.1,575.4 684.0,575.1 687.2,575.1 688.2,575.4 778.2,656.8 778.9,657.4 779.1,658.4 779.1,661.6 778.9,662.6 778.2,663.2 777.2,663.5 774.0,663.5 773.1,663.2 683.1,581.8 682.4,581.2 682.1,580.2ZM772.1,658.4 772.4,657.4 773.1,656.8 774.0,656.5 777.2,656.5 778.2,656.8 778.9,657.4 868.9,759.9 869.2,760.9 869.2,764.1 868.9,765.1 868.2,765.7 867.3,766.0 864.0,766.0 863.1,765.7 862.4,765.1 772.4,662.6 772.1,661.6ZM862.2,760.9 862.4,759.9 863.1,759.3 864.0,759.0 867.3,759.0 868.2,759.3 868.9,759.9 958.9,872.4 959.2,873.4 959.2,876.6 958.9,877.6 958.2,878.2 957.3,878.5 954.1,878.5 953.1,878.2 952.4,877.6 862.4,765.1 862.2,764.1ZM952.2,873.4 952.4,872.4 953.1,871.8 954.1,871.5 957.3,871.5 958.2,871.8 958.9,872.4 1049.0,1006.4 1049.2,1007.4 1049.2,1010.6 1049.0,1011.6 1048.3,1012.2 1047.3,1012.5 1044.1,1012.5 1043.2,1012.2 1042.5,1011.6 952.4,877.6 952.2,876.6ZM1042.2,1007.4 1042.5,1006.4 1043.2,1005.8 1044.1,1005.5 1047.3,1005.5 1048.3,1005.8 1049.0,1006.4 1081.7,1062.4 1082.0,1063.4 1082.0,1066.6 1081.7,1067.6 1081.1,1068.2 1080.1,1068.5 1076.9,1068.5 1075.9,1068.2 1075.3,1067.6 1042.5,1011.6 1042.2,1010.6ZM1075.0,1063.4 1075.3,1062.4 1112.8,997.4 1113.4,996.8 1114.4,996.5 1117.6,996.5 1118.6,996.8 1119.2,997.4 1119.5,998.4 1119.5,1001.6 1119.2,1002.6 1081.7,1067.6 1081.1,1068.2 1080.1,1068.5 1076.9,1068.5 1075.9,1068.2 1075.3,1067.6 1075.0,1066.6ZM1112.5,998.4 1112.8,997.4 1167.4,897.4 1168.0,896.8 1169.0,896.5 1172.2,896.5 1173.2,896.8 1173.8,897.4 1174.1,898.4 1174.1,901.6 1173.8,902.6 1119.2,1002.6 1118.6,1003.2 1117.6,1003.5 1114.4,1003.5 1113.4,1003.2 1112.8,1002.6 1112.5,1001.6ZM1167.1,898.4 1167.4,897.4 1238.0,747.4 1238.6,746.8 1239.6,746.5 1242.8,746.5 1243.8,746.8 1244.4,747.4 1244.7,748.4 1244.7,751.6 1244.4,752.6 1173.8,902.6 1173.2,903.2 1172.2,903.5 1169.0,903.5 1168.0,903.2 1167.4,902.6 1167.1,901.6ZM1237.7,748.4 1238.0,747.4 1306.8,597.4 1307.4,596.8 1308.4,596.5 1311.6,596.5 1312.6,596.8 1313.2,597.4 1313.5,598.4 1313.5,601.6 1313.2,602.6 1244.4,752.6 1243.8,753.2 1242.8,753.5 1239.6,753.5 1238.6,753.2 1238.0,752.6 1237.7,751.6ZM1306.5,598.4 1306.8,597.4 1370.2,447.4 1370.8,446.8 1371.8,446.5 1375.0,446.5 1376.0,446.8 1376.6,447.4 1376.9,448.4 1376.9,451.6 1376.6,452.6 1313.2,602.6 1312.6,603.2 1311.6,603.5 1308.4,603.5 1307.4,603.2 1306.8,602.6 1306.5,601.6ZM1369.9,448.4 1370.2,447.4 1431.7,297.4 1432.3,296.8 1433.3,296.5 1436.5,296.5 1437.5,296.8 1438.1,297.4 1438.4,298.4 1438.4,301.6 1438.1,302.6 1376.6,452.6 1376.0,453.2 1375.0,453.5 1371.8,453.5 1370.8,453.2 1370.2,452.6 1369.9,451.6ZM1431.4,298.4 1431.7,297.4 1466.0,204.4 1466.6,203.8 1467.6,203.5 1470.8,203.5 1471.8,203.8 1472.4,204.4 1472.7,205.4 1472.7,208.6 1472.4,209.6 1438.1,302.6 1437.5,303.2 1436.5,303.5 1433.3,303.5 1432.3,303.2 1431.7,302.6 1431.4,301.6ZM1465.7,205.4 1466.0,204.4 1516.8,61.4 1517.4,60.8 1518.4,60.5 1521.6,60.5 1522.6,60.8 1523.2,61.4 1523.5,62.4 1523.5,65.6 1523.2,66.6 1472.4,209.6 1471.8,210.2 1470.8,210.5 1467.6,210.5 1466.6,210.2 1466.0,209.6 1465.7,208.6ZM1516.5,62.4 1516.8,61.4 1532.4,17.4 1533.1,16.8 1534.0,16.5 1537.2,16.5 1538.2,16.8 1538.9,17.4 1539.1,18.4 1539.1,21.6 1538.9,22.6 1523.2,66.6 1522.6,67.2 1521.6,67.5 1518.4,67.5 1517.4,67.2 1516.8,66.6 1516.5,65.6Z" fill="#f00"/>
<path d="M324.0,564.7 324.2,563.6 324.8,562.8 325.6,562.2 326.6,562.0 328.3,562.0 361.5,565.4 362.5,565.6 363.3,566.2 363.9,567.1 364.1,568.1 364.1,569.8 363.9,570.8 363.3,571.6 362.5,572.2 361.5,572.4 359.8,572.4 326.6,569.0 325.6,568.8 324.8,568.2 324.2,567.4 324.0,566.3ZM401.9,572.7 402.1,571.7 402.7,570.8 403.5,570.3 404.5,570.1 406.2,570.1 416.4,571.1 417.4,571.3 418.2,571.9 418.8,572.7 419.0,573.8 419.0,575.4 418.8,576.5 418.2,577.3 417.4,577.9 416.4,578.1 414.7,578.1 404.5,577.1 403.5,576.8 402.7,576.3 402.1,575.4 401.9,574.4ZM412.0,573.8 412.2,572.7 412.8,571.9 413.7,571.3 414.7,571.1 416.4,571.1 417.4,571.3 439.6,577.6 440.5,578.2 441.0,579.1 441.2,580.1 441.2,581.8 441.0,582.8 440.5,583.7 439.6,584.2 438.6,584.4 436.9,584.4 435.9,584.2 413.7,577.9 412.8,577.3 412.2,576.5 412.0,575.4ZM477.5,592.5 477.7,591.4 478.3,590.6 479.1,590.0 480.2,589.8 481.8,589.8 482.9,590.0 507.4,597.0 508.3,597.6 508.9,598.4 509.1,599.5 509.1,601.1 508.9,602.2 508.3,603.0 507.4,603.6 506.4,603.8 504.7,603.8 503.7,603.6 479.1,596.6 478.3,596.0 477.7,595.1 477.5,594.1ZM502.1,599.5 502.3,598.4 502.8,597.6 503.7,597.0 504.7,596.8 506.4,596.8 507.4,597.0 514.4,600.5 515.2,601.0 515.8,601.9 516.0,602.9 516.0,604.6 515.8,605.6 515.2,606.5 514.4,607.1 513.4,607.3 511.7,607.3 510.7,607.1 503.7,603.6 502.8,603.0 502.3,602.2 502.1,601.1ZM549.3,622.9 549.5,621.9 550.1,621.0 551.0,620.5 552.0,620.3 553.7,620.3 554.7,620.5 584.5,635.3 585.4,635.9 585.9,636.7 586.1,637.7 586.1,639.4 585.9,640.4 585.4,641.3 584.5,641.9 583.5,642.1 581.8,642.1 580.8,641.9 551.0,627.1 550.1,626.5 549.5,625.6 549.3,624.6ZM617.6,661.0 617.8,660.0 618.4,659.1 619.2,658.6 620.2,658.3 621.9,658.3 622.9,658.6 650.7,676.9 651.6,677.5 652.2,678.4 652.4,679.4 652.4,681.0 652.2,682.1 651.6,682.9 650.7,683.5 649.7,683.7 648.0,683.7 647.0,683.5 619.2,665.1 618.4,664.6 617.8,663.7 617.6,662.7ZM682.8,704.3 683.0,703.3 683.6,702.4 684.5,701.8 685.5,701.6 687.1,701.6 688.2,701.8 689.0,702.4 713.7,724.8 714.3,725.6 714.5,726.6 714.5,728.3 714.3,729.3 713.7,730.2 712.9,730.8 711.8,731.0 710.2,731.0 709.1,730.8 708.3,730.2 683.6,707.9 683.0,707.0 682.8,706.0ZM740.9,756.8 741.1,755.8 741.6,755.0 742.5,754.4 743.5,754.2 745.2,754.2 746.2,754.4 747.1,755.0 771.8,777.3 772.3,778.2 772.5,779.2 772.5,780.9 772.3,781.9 771.8,782.8 770.9,783.3 769.9,783.5 768.2,783.5 767.2,783.3 766.3,782.8 741.6,760.4 741.1,759.5 740.9,758.5ZM796.5,811.8 796.7,810.8 797.3,809.9 798.1,809.4 799.2,809.2 800.8,809.2 801.9,809.4 802.7,809.9 825.2,834.5 825.8,835.4 826.0,836.4 826.0,838.1 825.8,839.1 825.2,840.0 824.3,840.5 823.3,840.7 821.6,840.7 820.6,840.5 819.7,840.0 797.3,815.4 796.7,814.5 796.5,813.5ZM849.3,869.6 849.5,868.6 850.1,867.7 851.0,867.2 852.0,867.0 853.7,867.0 854.7,867.2 855.5,867.7 868.4,881.8 869.0,882.6 869.2,883.7 869.2,885.3 869.0,886.4 868.4,887.2 867.5,887.8 866.5,888.0 864.8,888.0 863.8,887.8 862.9,887.2 850.1,873.2 849.5,872.3 849.3,871.3ZM862.2,883.7 862.4,882.6 862.9,881.8 863.8,881.2 864.8,881.0 866.5,881.0 867.5,881.2 868.4,881.8 877.1,893.1 877.6,894.0 877.8,895.0 877.8,896.7 877.6,897.7 877.1,898.5 876.2,899.1 875.2,899.3 873.5,899.3 872.5,899.1 871.6,898.5 862.9,887.2 862.4,886.4 862.2,885.3ZM898.2,930.7 898.4,929.7 899.0,928.8 899.8,928.2 900.9,928.0 902.5,928.0 903.6,928.2 904.4,928.8 924.7,955.3 925.3,956.1 925.5,957.1 925.5,958.8 925.3,959.8 924.7,960.7 923.8,961.3 922.8,961.5 921.1,961.5 920.1,961.3 919.2,960.7 899.0,934.3 898.4,933.4 898.2,932.4ZM945.8,992.9 946.0,991.8 946.6,991.0 947.5,990.4 948.5,990.2 950.2,990.2 951.2,990.4 952.0,991.0 958.4,999.3 959.0,1000.1 959.2,1001.2 959.2,1002.8 959.0,1003.9 958.4,1004.7 957.5,1005.3 956.5,1005.5 954.8,1005.5 953.8,1005.3 953.0,1004.7 946.6,996.4 946.0,995.6 945.8,994.5ZM952.2,1001.2 952.4,1000.1 953.0,999.3 953.8,998.7 954.8,998.5 956.5,998.5 957.5,998.7 958.4,999.3 971.5,1018.0 972.1,1018.8 972.3,1019.8 972.3,1021.5 972.1,1022.5 971.5,1023.4 970.7,1024.0 969.7,1024.2 968.0,1024.2 967.0,1024.0 966.1,1023.4 953.0,1004.7 952.4,1003.9 952.2,1002.8ZM991.2,1056.6 991.4,1055.6 992.0,1054.8 992.9,1054.2 993.9,1054.0 995.6,1054.0 996.6,1054.2 997.4,1054.8 1002.7,1062.3 1003.3,1063.1 1003.5,1064.2 1003.5,1065.8 1003.3,1066.9 1002.7,1067.7 1001.9,1068.3 1000.8,1068.5 999.2,1068.5 998.1,1068.3 997.3,1067.7 992.0,1060.2 991.4,1059.3 991.2,1058.3ZM996.5,1064.2 996.7,1063.1 1011.9,1039.6 1012.5,1038.7 1013.4,1038.1 1014.4,1037.9 1016.1,1037.9 1017.1,1038.1 1017.9,1038.7 1018.5,1039.6 1018.7,1040.6 1018.7,1042.3 1018.5,1043.3 1003.3,1066.9 1002.7,1067.7 1001.9,1068.3 1000.8,1068.5 999.2,1068.5 998.1,1068.3 997.3,1067.7 996.7,1066.9 996.5,1065.8ZM1034.5,1005.3 1034.7,1004.3 1038.7,998.1 1039.3,997.3 1040.1,996.7 1041.2,996.5 1042.8,996.5 1043.9,996.7 1044.7,997.3 1045.3,998.1 1045.5,999.2 1045.5,1000.8 1045.3,1001.9 1041.3,1008.0 1040.7,1008.9 1039.9,1009.5 1038.9,1009.7 1037.2,1009.7 1036.2,1009.5 1035.3,1008.9 1034.7,1008.0 1034.5,1007.0ZM1038.5,999.2 1038.7,998.1 1052.0,975.8 1052.6,975.0 1053.4,974.4 1054.4,974.2 1056.1,974.2 1057.1,974.4 1058.0,975.0 1058.6,975.8 1058.8,976.8 1058.8,978.5 1058.6,979.5 1045.3,1001.9 1044.7,1002.7 1043.9,1003.3 1042.8,1003.5 1041.2,1003.5 1040.1,1003.3 1039.3,1002.7 1038.7,1001.9 1038.5,1000.8ZM1073.3,940.8 1073.5,939.7 1090.5,911.1 1091.1,910.3 1091.9,909.7 1092.9,909.5 1094.6,909.5 1095.6,909.7 1096.5,910.3 1097.1,911.1 1097.3,912.1 1097.3,913.8 1097.1,914.8 1080.0,943.5 1079.5,944.3 1078.6,944.9 1077.6,945.1 1075.9,945.1 1074.9,944.9 1074.0,944.3 1073.5,943.5 1073.3,942.4ZM1110.8,875.5 1111.0,874.5 1126.9,845.2 1127.5,844.4 1128.4,843.8 1129.4,843.6 1131.1,843.6 1132.1,843.8 1132.9,844.4 1133.5,845.2 1133.7,846.2 1133.7,847.9 1133.5,848.9 1117.6,878.2 1117.1,879.1 1116.2,879.7 1115.2,879.9 1113.5,879.9 1112.5,879.7 1111.6,879.1 1111.0,878.2 1110.8,877.2ZM1146.7,809.3 1146.9,808.3 1162.8,779.0 1163.4,778.2 1164.3,777.6 1165.3,777.4 1167.0,777.4 1168.0,777.6 1168.8,778.2 1169.4,779.0 1169.6,780.1 1169.6,781.7 1169.4,782.8 1153.5,812.0 1153.0,812.9 1152.1,813.5 1151.1,813.7 1149.4,813.7 1148.4,813.5 1147.5,812.9 1146.9,812.0 1146.7,811.0ZM1182.2,742.9 1182.4,741.9 1196.2,711.6 1196.7,710.7 1197.6,710.1 1198.6,709.9 1200.3,709.9 1201.3,710.1 1202.2,710.7 1202.8,711.6 1203.0,712.6 1203.0,714.3 1202.8,715.3 1189.0,745.6 1188.4,746.5 1187.6,747.1 1186.6,747.3 1184.9,747.3 1183.9,747.1 1183.0,746.5 1182.4,745.6 1182.2,744.6ZM1213.3,674.3 1213.5,673.3 1227.2,643.0 1227.8,642.1 1228.6,641.5 1229.7,641.3 1231.3,641.3 1232.4,641.5 1233.2,642.1 1233.8,643.0 1234.0,644.0 1234.0,645.7 1233.8,646.7 1220.1,677.0 1219.5,677.9 1218.6,678.5 1217.6,678.7 1215.9,678.7 1214.9,678.5 1214.1,677.9 1213.5,677.0 1213.3,676.0ZM1244.3,605.7 1244.5,604.7 1247.5,598.1 1248.1,597.3 1248.9,596.7 1250.0,596.5 1251.6,596.5 1252.7,596.7 1253.5,597.3 1254.1,598.1 1254.3,599.2 1254.3,600.8 1254.1,601.9 1251.1,608.4 1250.5,609.3 1249.7,609.9 1248.7,610.1 1247.0,610.1 1246.0,609.9 1245.1,609.3 1244.5,608.4 1244.3,607.4ZM1247.3,599.2 1247.5,598.1 1258.4,574.4 1259.0,573.6 1259.9,573.0 1260.9,572.8 1262.6,572.8 1263.6,573.0 1264.4,573.6 1265.0,574.4 1265.2,575.5 1265.2,577.1 1265.0,578.2 1254.1,601.9 1253.5,602.7 1252.7,603.3 1251.6,603.5 1250.0,603.5 1248.9,603.3 1248.1,602.7 1247.5,601.9 1247.3,600.8ZM1275.8,537.3 1276.0,536.3 1289.9,506.1 1290.5,505.2 1291.4,504.6 1292.4,504.4 1294.1,504.4 1295.1,504.6 1295.9,505.2 1296.5,506.1 1296.7,507.1 1296.7,508.8 1296.5,509.8 1282.6,540.0 1282.0,540.9 1281.1,541.5 1280.1,541.7 1278.4,541.7 1277.4,541.5 1276.6,540.9 1276.0,540.0 1275.8,539.0ZM1307.3,468.9 1307.5,467.9 1316.6,448.1 1317.2,447.3 1318.0,446.7 1319.1,446.5 1320.7,446.5 1321.8,446.7 1322.6,447.3 1323.2,448.1 1323.4,449.2 1323.4,450.8 1323.2,451.9 1314.1,471.6 1313.5,472.5 1312.7,473.1 1311.6,473.3 1310.0,473.3 1308.9,473.1 1308.1,472.5 1307.5,471.6 1307.3,470.6ZM1316.4,449.2 1316.6,448.1 1320.9,437.4 1321.5,436.6 1322.4,436.0 1323.4,435.8 1325.0,435.8 1326.1,436.0 1326.9,436.6 1327.5,437.4 1327.7,438.5 1327.7,440.1 1327.5,441.2 1323.2,451.9 1322.6,452.7 1321.8,453.3 1320.7,453.5 1319.1,453.5 1318.0,453.3 1317.2,452.7 1316.6,451.9 1316.4,450.8ZM1336.4,399.5 1336.6,398.5 1349.0,367.6 1349.6,366.7 1350.5,366.2 1351.5,365.9 1353.2,365.9 1354.2,366.2 1355.1,366.7 1355.6,367.6 1355.8,368.6 1355.8,370.3 1355.6,371.3 1343.2,402.2 1342.6,403.1 1341.8,403.6 1340.7,403.8 1339.1,403.8 1338.0,403.6 1337.2,403.1 1336.6,402.2 1336.4,401.2ZM1364.5,329.6 1364.7,328.6 1377.0,298.1 1377.6,297.3 1378.4,296.7 1379.5,296.5 1381.1,296.5 1382.2,296.7 1383.0,297.3 1383.6,298.1 1383.8,299.2 1383.8,300.8 1383.6,301.9 1371.3,332.3 1370.7,333.2 1369.9,333.8 1368.9,334.0 1367.2,334.0 1366.2,333.8 1365.3,333.2 1364.7,332.3 1364.5,331.3ZM1376.8,299.2 1377.0,298.1 1377.2,297.7 1377.7,296.9 1378.6,296.3 1379.6,296.1 1381.3,296.1 1382.3,296.3 1383.2,296.9 1383.8,297.7 1384.0,298.8 1384.0,300.4 1383.8,301.5 1383.6,301.9 1383.0,302.7 1382.2,303.3 1381.1,303.5 1379.5,303.5 1378.4,303.3 1377.6,302.7 1377.0,301.9 1376.8,300.8ZM1392.8,259.9 1393.0,258.8 1405.5,228.0 1406.1,227.1 1407.0,226.5 1408.0,226.3 1409.7,226.3 1410.7,226.5 1411.5,227.1 1412.1,228.0 1412.3,229.0 1412.3,230.7 1412.1,231.7 1399.6,262.5 1399.0,263.4 1398.1,264.0 1397.1,264.2 1395.4,264.2 1394.4,264.0 1393.6,263.4 1393.0,262.5 1392.8,261.5ZM1420.5,189.8 1420.7,188.8 1432.0,157.5 1432.6,156.7 1433.5,156.1 1434.5,155.9 1436.2,155.9 1437.2,156.1 1438.0,156.7 1438.6,157.5 1438.8,158.5 1438.8,160.2 1438.6,161.2 1427.3,192.5 1426.7,193.4 1425.9,194.0 1424.8,194.2 1423.2,194.2 1422.1,194.0 1421.3,193.4 1420.7,192.5 1420.5,191.5ZM1446.1,119.0 1446.3,118.0 1457.6,86.7 1458.2,85.8 1459.1,85.3 1460.1,85.1 1461.8,85.1 1462.8,85.3 1463.6,85.8 1464.2,86.7 1464.4,87.7 1464.4,89.4 1464.2,90.4 1452.9,121.7 1452.3,122.6 1451.5,123.2 1450.4,123.4 1448.8,123.4 1447.7,123.2 1446.9,122.6 1446.3,121.7 1446.1,120.7ZM1471.7,48.2 1471.9,47.2 1482.4,18.1 1483.0,17.3 1483.8,16.7 1484.9,16.5 1486.5,16.5 1487.6,16.7 1488.4,17.3 1489.0,18.1 1489.2,19.2 1489.2,20.8 1489.0,21.9 1478.5,50.9 1477.9,51.8 1477.1,52.4 1476.0,52.6 1474.4,52.6 1473.3,52.4 1472.5,51.8 1471.9,50.9 1471.7,49.9Z" fill="#f00"/>
<path d="M323.0,547.3 323.2,546.2 323.8,545.4 324.6,544.8 325.7,544.6 327.3,544.6 333.3,545.2 334.3,545.4 335.2,546.0 335.8,546.8 336.0,547.9 336.0,549.5 335.8,550.6 335.2,551.4 334.3,552.0 333.3,552.2 331.6,552.2 325.7,551.6 324.6,551.4 323.8,550.8 323.2,550.0 323.0,548.9ZM369.6,551.9 369.8,550.9 370.4,550.0 371.3,549.5 372.3,549.3 374.0,549.3 379.9,549.9 380.9,550.1 381.8,550.6 382.4,551.5 382.6,552.5 382.6,554.2 382.4,555.2 381.8,556.1 380.9,556.7 379.9,556.9 378.2,556.9 372.3,556.3 371.3,556.1 370.4,555.5 369.8,554.6 369.6,553.6ZM416.1,557.4 416.3,556.3 416.9,555.5 417.7,554.9 418.7,554.7 420.4,554.7 421.4,554.9 427.2,556.6 428.1,557.2 428.6,558.0 428.8,559.0 428.8,560.7 428.6,561.7 428.1,562.6 427.2,563.2 426.2,563.4 424.5,563.4 423.5,563.2 417.7,561.5 416.9,560.9 416.3,560.1 416.1,559.0ZM461.0,570.6 461.2,569.6 461.8,568.7 462.7,568.1 463.7,567.9 465.4,567.9 466.4,568.1 472.1,569.8 473.0,570.4 473.6,571.3 473.8,572.3 473.8,574.0 473.6,575.0 473.0,575.8 472.1,576.4 471.1,576.6 469.4,576.6 468.4,576.4 462.7,574.7 461.8,574.1 461.2,573.3 461.0,572.3ZM505.7,584.4 505.9,583.4 506.5,582.6 507.4,582.0 508.4,581.8 510.1,581.8 511.1,582.0 516.5,584.6 517.3,585.2 517.9,586.0 518.1,587.0 518.1,588.7 517.9,589.7 517.3,590.6 516.5,591.2 515.5,591.4 513.8,591.4 512.8,591.2 507.4,588.6 506.5,588.0 505.9,587.1 505.7,586.1ZM547.9,604.8 548.1,603.8 548.7,602.9 549.6,602.4 550.6,602.2 552.2,602.2 553.3,602.4 558.7,605.0 559.5,605.5 560.1,606.4 560.3,607.4 560.3,609.1 560.1,610.1 559.5,611.0 558.7,611.6 557.7,611.8 556.0,611.8 555.0,611.6 549.6,609.0 548.7,608.4 548.1,607.5 547.9,606.5ZM590.1,625.2 590.3,624.2 590.9,623.3 591.7,622.7 592.8,622.5 594.4,622.5 595.5,622.7 597.4,623.7 598.3,624.3 598.9,625.1 599.1,626.2 599.1,627.8 598.9,628.9 598.3,629.7 597.4,630.3 596.4,630.5 594.7,630.5 593.7,630.3 591.7,629.3 590.9,628.8 590.3,627.9 590.1,626.9ZM592.1,626.2 592.3,625.1 592.9,624.3 593.7,623.7 594.7,623.5 596.4,623.5 597.4,623.7 598.3,624.3 601.4,626.4 602.0,627.3 602.2,628.3 602.2,630.0 602.0,631.0 601.4,631.8 600.6,632.4 599.6,632.6 597.9,632.6 596.9,632.4 596.0,631.8 592.9,629.7 592.3,628.9 592.1,627.8ZM629.0,651.2 629.2,650.2 629.8,649.3 630.7,648.7 631.7,648.5 633.4,648.5 634.4,648.7 635.3,649.3 640.2,652.7 640.8,653.5 641.0,654.6 641.0,656.2 640.8,657.3 640.2,658.1 639.4,658.7 638.3,658.9 636.7,658.9 635.6,658.7 634.8,658.1 629.8,654.8 629.2,653.9 629.0,652.9ZM667.8,677.5 668.0,676.5 668.6,675.6 669.5,675.0 670.5,674.8 672.2,674.8 673.2,675.0 674.0,675.6 679.0,679.0 679.6,679.8 679.8,680.8 679.8,682.5 679.6,683.5 679.0,684.4 678.1,685.0 677.1,685.2 675.5,685.2 674.4,685.0 673.6,684.4 668.6,681.0 668.0,680.2 667.8,679.2ZM704.1,707.0 704.3,705.9 704.9,705.1 705.8,704.5 706.8,704.3 708.4,704.3 709.5,704.5 710.3,705.1 714.8,709.1 715.4,710.0 715.6,711.0 715.6,712.6 715.4,713.7 714.8,714.5 713.9,715.1 712.9,715.3 711.2,715.3 710.2,715.1 709.3,714.5 704.9,710.5 704.3,709.7 704.1,708.6ZM738.9,738.3 739.1,737.3 739.7,736.4 740.6,735.8 741.6,735.6 743.3,735.6 744.3,735.8 745.2,736.4 749.6,740.4 750.2,741.3 750.4,742.3 750.4,744.0 750.2,745.0 749.6,745.9 748.8,746.4 747.7,746.6 746.1,746.6 745.0,746.4 744.2,745.9 739.7,741.9 739.1,741.0 738.9,740.0ZM773.6,769.8 773.8,768.8 774.4,767.9 775.3,767.3 776.3,767.1 778.0,767.1 779.0,767.3 779.8,767.9 783.9,772.3 784.4,773.2 784.6,774.2 784.6,775.9 784.4,776.9 783.9,777.8 783.0,778.4 782.0,778.6 780.3,778.6 779.3,778.4 778.4,777.8 774.4,773.3 773.8,772.5 773.6,771.5ZM805.1,804.4 805.3,803.4 805.9,802.6 806.8,802.0 807.8,801.8 809.5,801.8 810.5,802.0 811.4,802.6 815.4,807.0 816.0,807.9 816.2,808.9 816.2,810.6 816.0,811.6 815.4,812.4 814.5,813.0 813.5,813.2 811.8,813.2 810.8,813.0 809.9,812.4 805.9,808.0 805.3,807.1 805.1,806.1ZM836.6,839.1 836.9,838.1 837.4,837.2 838.3,836.6 839.3,836.4 841.0,836.4 842.0,836.6 842.9,837.2 846.9,841.7 847.5,842.5 847.7,843.5 847.7,845.2 847.5,846.2 846.9,847.1 846.0,847.7 845.0,847.9 843.3,847.9 842.3,847.7 841.5,847.1 837.4,842.7 836.9,841.8 836.6,840.8ZM867.7,874.1 867.9,873.1 868.5,872.3 869.4,871.7 870.4,871.5 872.1,871.5 873.1,871.7 873.9,872.3 877.7,877.0 878.3,877.8 878.5,878.8 878.5,880.5 878.3,881.5 877.7,882.4 876.8,883.0 875.8,883.2 874.1,883.2 873.1,883.0 872.2,882.4 868.5,877.7 867.9,876.8 867.7,875.8ZM896.9,910.8 897.1,909.8 897.7,908.9 898.6,908.3 899.6,908.1 901.3,908.1 902.3,908.3 903.1,908.9 906.9,913.6 907.5,914.5 907.7,915.5 907.7,917.2 907.5,918.2 906.9,919.0 906.0,919.6 905.0,919.8 903.3,919.8 902.3,919.6 901.4,919.0 897.7,914.4 897.1,913.5 896.9,912.5ZM926.1,947.4 926.3,946.4 926.9,945.5 927.8,945.0 928.8,944.8 930.5,944.8 931.5,945.0 932.3,945.5 936.1,950.2 936.6,951.1 936.9,952.1 936.9,953.8 936.6,954.8 936.1,955.7 935.2,956.3 934.2,956.5 932.5,956.5 931.5,956.3 930.6,955.7 926.9,951.0 926.3,950.1 926.1,949.1ZM954.9,984.4 955.1,983.3 955.7,982.5 956.6,981.9 957.6,981.7 959.3,981.7 960.3,981.9 961.1,982.5 961.7,983.3 965.0,988.4 965.2,989.4 965.2,991.1 965.0,992.1 964.4,992.9 963.6,993.5 962.5,993.7 960.9,993.7 959.8,993.5 959.0,992.9 958.4,992.1 955.1,987.0 954.9,986.0ZM980.5,1023.6 980.7,1022.6 981.3,1021.7 982.2,1021.1 983.2,1020.9 984.9,1020.9 985.9,1021.1 986.7,1021.7 987.3,1022.6 990.6,1027.6 990.8,1028.6 990.8,1030.3 990.6,1031.3 990.0,1032.2 989.2,1032.7 988.1,1033.0 986.5,1033.0 985.4,1032.7 984.6,1032.2 984.0,1031.3 980.7,1026.3 980.5,1025.3ZM1006.1,1062.8 1006.3,1061.8 1006.9,1060.9 1007.8,1060.4 1008.8,1060.2 1010.5,1060.2 1011.5,1060.4 1012.3,1060.9 1012.9,1061.8 1013.8,1063.1 1014.0,1064.2 1014.0,1065.8 1013.8,1066.9 1013.2,1067.7 1012.4,1068.3 1011.3,1068.5 1009.7,1068.5 1008.6,1068.3 1007.8,1067.7 1007.2,1066.9 1006.3,1065.5 1006.1,1064.5ZM1008.0,1062.7 1008.2,1061.6 1011.5,1056.6 1012.1,1055.8 1012.9,1055.2 1013.9,1055.0 1015.6,1055.0 1016.6,1055.2 1017.5,1055.8 1018.1,1056.6 1018.3,1057.7 1018.3,1059.3 1018.1,1060.3 1014.8,1065.4 1014.2,1066.2 1013.3,1066.8 1012.3,1067.0 1010.6,1067.0 1009.6,1066.8 1008.8,1066.2 1008.2,1065.4 1008.0,1064.3ZM1032.8,1024.9 1033.0,1023.9 1036.3,1018.9 1036.9,1018.0 1037.7,1017.4 1038.8,1017.2 1040.4,1017.2 1041.5,1017.4 1042.3,1018.0 1042.9,1018.9 1043.1,1019.9 1043.1,1021.6 1042.9,1022.6 1039.6,1027.6 1039.0,1028.5 1038.2,1029.0 1037.1,1029.2 1035.5,1029.2 1034.4,1029.0 1033.6,1028.5 1033.0,1027.6 1032.8,1026.6ZM1057.0,986.7 1057.2,985.7 1060.2,980.5 1060.8,979.7 1061.7,979.1 1062.7,978.9 1064.4,978.9 1065.4,979.1 1066.3,979.7 1066.8,980.5 1067.0,981.6 1067.0,983.2 1066.8,984.3 1063.8,989.4 1063.2,990.3 1062.4,990.9 1061.3,991.1 1059.7,991.1 1058.6,990.9 1057.8,990.3 1057.2,989.4 1057.0,988.4ZM1079.9,947.7 1080.1,946.7 1083.1,941.6 1083.7,940.7 1084.6,940.1 1085.6,939.9 1087.3,939.9 1088.3,940.1 1089.1,940.7 1089.7,941.6 1089.9,942.6 1089.9,944.3 1089.7,945.3 1086.7,950.4 1086.1,951.3 1085.2,951.9 1084.2,952.1 1082.5,952.1 1081.5,951.9 1080.7,951.3 1080.1,950.4 1079.9,949.4ZM1102.8,908.8 1103.0,907.7 1106.0,902.6 1106.6,901.7 1107.4,901.1 1108.5,900.9 1110.1,900.9 1111.2,901.1 1112.0,901.7 1112.6,902.6 1112.8,903.6 1112.8,905.3 1112.6,906.3 1109.6,911.5 1109.0,912.3 1108.1,912.9 1107.1,913.1 1105.4,913.1 1104.4,912.9 1103.5,912.3 1103.0,911.5 1102.8,910.4ZM1124.2,869.0 1124.4,868.0 1127.2,862.6 1127.7,861.8 1128.6,861.2 1129.6,861.0 1131.3,861.0 1132.3,861.2 1133.2,861.8 1133.8,862.6 1134.0,863.7 1134.0,865.3 1133.8,866.4 1131.0,871.7 1130.4,872.5 1129.5,873.1 1128.5,873.3 1126.8,873.3 1125.8,873.1 1125.0,872.5 1124.4,871.7 1124.2,870.7ZM1145.1,828.9 1145.3,827.9 1148.1,822.6 1148.7,821.7 1149.5,821.1 1150.6,820.9 1152.2,820.9 1153.3,821.1 1154.1,821.7 1154.7,822.6 1154.9,823.6 1154.9,825.3 1154.7,826.3 1151.9,831.6 1151.3,832.5 1150.5,833.1 1149.5,833.3 1147.8,833.3 1146.8,833.1 1145.9,832.5 1145.3,831.6 1145.1,830.6ZM1166.1,788.9 1166.3,787.8 1169.0,782.5 1169.6,781.7 1170.5,781.1 1171.5,780.9 1173.2,780.9 1174.2,781.1 1175.1,781.7 1175.6,782.5 1175.8,783.5 1175.8,785.2 1175.6,786.2 1172.8,791.6 1172.3,792.4 1171.4,793.0 1170.4,793.2 1168.7,793.2 1167.7,793.0 1166.8,792.4 1166.3,791.6 1166.1,790.5ZM1187.0,748.8 1187.2,747.8 1189.7,742.3 1190.3,741.5 1191.2,740.9 1192.2,740.7 1193.9,740.7 1194.9,740.9 1195.8,741.5 1196.3,742.3 1196.5,743.4 1196.5,745.0 1196.3,746.1 1193.8,751.5 1193.2,752.4 1192.3,752.9 1191.3,753.1 1189.6,753.1 1188.6,752.9 1187.8,752.4 1187.2,751.5 1187.0,750.5ZM1206.2,707.9 1206.4,706.9 1209.0,701.5 1209.6,700.6 1210.4,700.0 1211.5,699.8 1213.1,699.8 1214.2,700.0 1215.0,700.6 1215.6,701.5 1215.8,702.5 1215.8,704.2 1215.6,705.2 1213.0,710.6 1212.5,711.5 1211.6,712.0 1210.6,712.2 1208.9,712.2 1207.9,712.0 1207.0,711.5 1206.4,710.6 1206.2,709.6ZM1225.5,667.0 1225.7,666.0 1228.3,660.6 1228.9,659.7 1229.7,659.1 1230.7,658.9 1232.4,658.9 1233.4,659.1 1234.3,659.7 1234.9,660.6 1235.1,661.6 1235.1,663.3 1234.9,664.3 1232.3,669.7 1231.7,670.6 1230.9,671.2 1229.9,671.4 1228.2,671.4 1227.2,671.2 1226.3,670.6 1225.7,669.7 1225.5,668.7ZM1244.8,626.1 1245.0,625.1 1247.5,619.7 1248.1,618.8 1249.0,618.2 1250.0,618.0 1251.7,618.0 1252.7,618.2 1253.6,618.8 1254.1,619.7 1254.3,620.7 1254.3,622.4 1254.1,623.4 1251.6,628.8 1251.0,629.7 1250.1,630.3 1249.1,630.5 1247.4,630.5 1246.4,630.3 1245.6,629.7 1245.0,628.8 1244.8,627.8ZM1263.8,585.1 1264.0,584.1 1266.4,578.6 1267.0,577.8 1267.9,577.2 1268.9,577.0 1270.6,577.0 1271.6,577.2 1272.5,577.8 1273.0,578.6 1273.2,579.6 1273.2,581.3 1273.0,582.3 1270.6,587.8 1270.0,588.7 1269.1,589.3 1268.1,589.5 1266.4,589.5 1265.4,589.3 1264.6,588.7 1264.0,587.8 1263.8,586.8ZM1282.2,543.9 1282.4,542.8 1284.9,537.4 1285.5,536.5 1286.3,535.9 1287.3,535.7 1289.0,535.7 1290.0,535.9 1290.9,536.5 1291.5,537.4 1291.7,538.4 1291.7,540.1 1291.5,541.1 1289.0,546.6 1288.5,547.4 1287.6,548.0 1286.6,548.2 1284.9,548.2 1283.9,548.0 1283.0,547.4 1282.4,546.6 1282.2,545.5ZM1300.7,502.6 1300.9,501.6 1303.3,496.1 1303.9,495.2 1304.8,494.7 1305.8,494.5 1307.5,494.5 1308.5,494.7 1309.4,495.2 1309.9,496.1 1310.1,497.1 1310.1,498.8 1309.9,499.8 1307.5,505.3 1306.9,506.2 1306.1,506.7 1305.0,506.9 1303.4,506.9 1302.3,506.7 1301.5,506.2 1300.9,505.3 1300.7,504.3ZM1319.2,461.3 1319.4,460.3 1321.8,454.8 1322.4,454.0 1323.2,453.4 1324.3,453.2 1325.9,453.2 1327.0,453.4 1327.8,454.0 1328.4,454.8 1328.6,455.9 1328.6,457.5 1328.4,458.6 1325.9,464.0 1325.4,464.9 1324.5,465.5 1323.5,465.7 1321.8,465.7 1320.8,465.5 1319.9,464.9 1319.4,464.0 1319.2,463.0ZM1336.6,419.6 1336.8,418.6 1339.0,413.1 1339.6,412.2 1340.5,411.6 1341.5,411.4 1343.2,411.4 1344.2,411.6 1345.1,412.2 1345.6,413.1 1345.8,414.1 1345.8,415.8 1345.6,416.8 1343.4,422.3 1342.8,423.2 1341.9,423.8 1340.9,424.0 1339.2,424.0 1338.2,423.8 1337.4,423.2 1336.8,422.3 1336.6,421.3ZM1353.6,377.8 1353.8,376.7 1356.0,371.2 1356.6,370.3 1357.5,369.7 1358.5,369.5 1360.2,369.5 1361.2,369.7 1362.1,370.3 1362.6,371.2 1362.8,372.2 1362.8,373.9 1362.6,374.9 1360.4,380.5 1359.8,381.3 1358.9,381.9 1357.9,382.1 1356.2,382.1 1355.2,381.9 1354.4,381.3 1353.8,380.5 1353.6,379.4ZM1370.6,335.9 1370.8,334.9 1373.0,329.3 1373.6,328.4 1374.5,327.9 1375.5,327.7 1377.2,327.7 1378.2,327.9 1379.1,328.4 1379.6,329.3 1379.8,330.3 1379.8,332.0 1379.6,333.0 1377.4,338.6 1376.8,339.4 1375.9,340.0 1374.9,340.2 1373.2,340.2 1372.2,340.0 1371.4,339.4 1370.8,338.6 1370.6,337.6ZM1387.5,294.0 1387.7,292.9 1389.9,287.3 1390.4,286.5 1391.3,285.9 1392.3,285.7 1394.0,285.7 1395.0,285.9 1395.9,286.5 1396.5,287.3 1396.7,288.4 1396.7,290.0 1396.5,291.1 1394.3,296.7 1393.7,297.5 1392.9,298.1 1391.8,298.3 1390.2,298.3 1389.1,298.1 1388.3,297.5 1387.7,296.7 1387.5,295.6ZM1403.7,251.8 1403.9,250.8 1406.1,245.2 1406.7,244.3 1407.5,243.7 1408.6,243.5 1410.2,243.5 1411.3,243.7 1412.1,244.3 1412.7,245.2 1412.9,246.2 1412.9,247.9 1412.7,248.9 1410.5,254.5 1410.0,255.3 1409.1,255.9 1408.1,256.1 1406.4,256.1 1405.4,255.9 1404.5,255.3 1403.9,254.5 1403.7,253.5ZM1420.0,209.6 1420.2,208.6 1421.5,205.1 1422.1,204.3 1422.9,203.7 1424.0,203.5 1425.6,203.5 1426.7,203.7 1427.5,204.3 1428.1,205.1 1428.3,206.2 1428.3,207.8 1428.1,208.9 1426.8,212.3 1426.2,213.2 1425.3,213.7 1424.3,213.9 1422.6,213.9 1421.6,213.7 1420.8,213.2 1420.2,212.3 1420.0,211.3ZM1421.3,206.2 1421.5,205.1 1422.3,203.0 1422.9,202.1 1423.8,201.5 1424.8,201.3 1426.5,201.3 1427.5,201.5 1428.3,202.1 1428.9,203.0 1429.1,204.0 1429.1,205.7 1428.9,206.7 1428.1,208.9 1427.5,209.7 1426.7,210.3 1425.6,210.5 1424.0,210.5 1422.9,210.3 1422.1,209.7 1421.5,208.9 1421.3,207.8ZM1435.9,167.3 1436.1,166.3 1438.2,160.7 1438.8,159.8 1439.6,159.2 1440.7,159.0 1442.3,159.0 1443.4,159.2 1444.2,159.8 1444.8,160.7 1445.0,161.7 1445.0,163.4 1444.8,164.4 1442.7,170.0 1442.1,170.9 1441.3,171.4 1440.2,171.6 1438.6,171.6 1437.5,171.4 1436.7,170.9 1436.1,170.0 1435.9,169.0ZM1451.8,125.0 1452.0,124.0 1454.1,118.3 1454.7,117.5 1455.5,116.9 1456.6,116.7 1458.2,116.7 1459.3,116.9 1460.1,117.5 1460.7,118.3 1460.9,119.4 1460.9,121.0 1460.7,122.1 1458.6,127.7 1458.0,128.5 1457.1,129.1 1456.1,129.3 1454.4,129.3 1453.4,129.1 1452.6,128.5 1452.0,127.7 1451.8,126.7ZM1467.7,82.7 1467.9,81.7 1470.0,76.0 1470.6,75.2 1471.4,74.6 1472.4,74.4 1474.1,74.4 1475.1,74.6 1476.0,75.2 1476.6,76.0 1476.8,77.1 1476.8,78.7 1476.6,79.7 1474.5,85.4 1473.9,86.2 1473.0,86.8 1472.0,87.0 1470.3,87.0 1469.3,86.8 1468.5,86.2 1467.9,85.4 1467.7,84.3ZM1483.6,40.4 1483.8,39.3 1485.9,33.7 1486.5,32.9 1487.3,32.3 1488.3,32.1 1490.0,32.1 1491.0,32.3 1491.9,32.9 1492.5,33.7 1492.7,34.7 1492.7,36.4 1492.5,37.4 1490.4,43.1 1489.8,43.9 1488.9,44.5 1487.9,44.7 1486.2,44.7 1485.2,44.5 1484.3,43.9 1483.8,43.1 1483.6,42.0Z" fill="#f00"/>
<path d="M322.0,414.9 322.3,413.9 322.9,413.3 323.9,413.0 327.1,413.0 417.1,420.9 418.1,421.2 418.8,421.8 419.0,422.8 419.0,426.0 418.8,427.0 418.1,427.6 417.1,427.9 413.9,427.9 323.9,420.0 322.9,419.7 322.3,419.1 322.0,418.1ZM412.0,422.8 412.3,421.8 413.0,421.2 413.9,420.9 417.1,420.9 418.1,421.2 508.1,446.6 508.8,447.2 509.1,448.2 509.1,451.4 508.8,452.4 508.1,453.0 507.2,453.3 503.9,453.3 503.0,453.0 413.0,427.6 412.3,427.0 412.0,426.0ZM502.1,448.2 502.3,447.2 503.0,446.6 503.9,446.3 507.2,446.3 508.1,446.6 598.1,489.8 598.8,490.4 599.1,491.4 599.1,494.6 598.8,495.6 598.1,496.2 597.2,496.5 594.0,496.5 593.0,496.2 503.0,453.0 502.3,452.4 502.1,451.4ZM592.1,491.4 592.3,490.4 593.0,489.8 594.0,489.5 597.2,489.5 598.1,489.8 688.2,551.4 688.9,552.0 689.1,553.0 689.1,556.2 688.9,557.2 688.2,557.8 687.2,558.1 684.0,558.1 683.1,557.8 593.0,496.2 592.3,495.6 592.1,494.6ZM682.1,553.0 682.4,552.0 683.1,551.4 684.0,551.1 687.2,551.1 688.2,551.4 778.2,632.8 778.9,633.4 779.1,634.4 779.1,637.6 778.9,638.6 778.2,639.2 777.2,639.5 774.0,639.5 773.1,639.2 683.1,557.8 682.4,557.2 682.1,556.2ZM772.1,634.4 772.4,633.4 773.1,632.8 774.0,632.5 777.2,632.5 778.2,632.8 778.9,633.4 868.9,734.7 869.2,735.7 869.2,738.9 868.9,739.9 868.2,740.5 867.3,740.8 864.0,740.8 863.1,740.5 862.4,739.9 772.4,638.6 772.1,637.6ZM862.2,735.7 862.4,734.7 863.1,734.1 864.0,733.8 867.3,733.8 868.2,734.1 868.9,734.7 958.9,847.4 959.2,848.4 959.2,851.6 958.9,852.6 958.2,853.2 957.3,853.5 954.1,853.5 953.1,853.2 952.4,852.6 862.4,739.9 862.2,738.9ZM952.2,848.4 952.4,847.4 953.1,846.8 954.1,846.5 957.3,846.5 958.2,846.8 958.9,847.4 1049.0,981.4 1049.2,982.4 1049.2,985.6 1049.0,986.6 1048.3,987.2 1047.3,987.5 1044.1,987.5 1043.2,987.2 1042.5,986.6 952.4,852.6 952.2,851.6ZM1042.2,982.4 1042.5,981.4 1043.2,980.8 1044.1,980.5 1047.3,980.5 1048.3,980.8 1049.0,981.4 1097.2,1062.4 1097.5,1063.4 1097.5,1066.6 1097.2,1067.6 1096.6,1068.2 1095.6,1068.5 1092.4,1068.5 1091.4,1068.2 1090.8,1067.6 1042.5,986.6 1042.2,985.6ZM1090.5,1063.4 1090.8,1062.4 1129.0,997.4 1129.6,996.8 1130.6,996.5 1133.8,996.5 1134.8,996.8 1135.4,997.4 1135.7,998.4 1135.7,1001.6 1135.4,1002.6 1097.2,1067.6 1096.6,1068.2 1095.6,1068.5 1092.4,1068.5 1091.4,1068.2 1090.8,1067.6 1090.5,1066.6ZM1128.7,998.4 1129.0,997.4 1181.3,897.4 1181.9,896.8 1182.9,896.5 1186.1,896.5 1187.1,896.8 1187.7,897.4 1188.0,898.4 1188.0,901.6 1187.7,902.6 1135.4,1002.6 1134.8,1003.2 1133.8,1003.5 1130.6,1003.5 1129.6,1003.2 1129.0,1002.6 1128.7,1001.6ZM1181.0,898.4 1181.3,897.4 1252.1,747.4 1252.7,746.8 1253.7,746.5 1256.9,746.5 1257.9,746.8 1258.5,747.4 1258.8,748.4 1258.8,751.6 1258.5,752.6 1187.7,902.6 1187.1,903.2 1186.1,903.5 1182.9,903.5 1181.9,903.2 1181.3,902.6 1181.0,901.6ZM1251.8,748.4 1252.1,747.4 1318.3,597.4 1318.9,596.8 1319.9,596.5 1323.1,596.5 1324.1,596.8 1324.7,597.4 1325.0,598.4 1325.0,601.6 1324.7,602.6 1258.5,752.6 1257.9,753.2 1256.9,753.5 1253.7,753.5 1252.7,753.2 1252.1,752.6 1251.8,751.6ZM1318.0,598.4 1318.3,597.4 1381.7,447.4 1382.3,446.8 1383.3,446.5 1386.5,446.5 1387.5,446.8 1388.1,447.4 1388.4,448.4 1388.4,451.6 1388.1,452.6 1324.7,602.6 1324.1,603.2 1323.1,603.5 1319.9,603.5 1318.9,603.2 1318.3,602.6 1318.0,601.6ZM1381.4,448.4 1381.7,447.4 1442.6,297.4 1443.2,296.8 1444.2,296.5 1447.4,296.5 1448.4,296.8 1449.0,297.4 1449.3,298.4 1449.3,301.6 1449.0,302.6 1388.1,452.6 1387.5,453.2 1386.5,453.5 1383.3,453.5 1382.3,453.2 1381.7,452.6 1381.4,451.6ZM1442.3,298.4 1442.6,297.4 1477.5,204.4 1478.1,203.8 1479.1,203.5 1482.3,203.5 1483.3,203.8 1483.9,204.4 1484.2,205.4 1484.2,208.6 1483.9,209.6 1449.0,302.6 1448.4,303.2 1447.4,303.5 1444.2,303.5 1443.2,303.2 1442.6,302.6 1442.3,301.6ZM1477.2,205.4 1477.5,204.4 1526.4,61.4 1527.0,60.8 1528.0,60.5 1531.2,60.5 1532.2,60.8 1532.8,61.4 1533.1,62.4 1533.1,65.6 1532.8,66.6 1483.9,209.6 1483.3,210.2 1482.3,210.5 1479.1,210.5 1478.1,210.2 1477.5,209.6 1477.2,208.6ZM1526.1,62.4 1526.4,61.4 1541.4,17.4 1542.1,16.8 1543.0,16.5 1546.3,16.5 1547.2,16.8 1547.9,17.4 1548.1,18.4 1548.1,21.6 1547.9,22.6 1532.8,66.6 1532.2,67.2 1531.2,67.5 1528.0,67.5 1527.0,67.2 1526.4,66.6 1526.1,65.6Z" fill="#00f"/>
<path d="M324.0,528.6 324.2,527.6 324.8,526.8 325.6,526.2 326.7,526.0 328.3,526.0 361.5,528.9 362.5,529.1 363.4,529.7 364.0,530.6 364.2,531.6 364.2,533.3 364.0,534.3 363.4,535.1 362.5,535.7 361.5,535.9 359.8,535.9 326.7,533.0 325.6,532.8 324.8,532.2 324.2,531.3 324.0,530.3ZM402.0,535.6 402.2,534.5 402.8,533.7 403.6,533.1 404.6,532.9 406.3,532.9 416.4,533.8 417.4,534.0 418.2,534.6 418.8,535.4 419.0,536.5 419.0,538.1 418.8,539.2 418.2,540.0 417.4,540.6 416.4,540.8 414.7,540.8 404.6,539.9 403.6,539.7 402.8,539.1 402.2,538.3 402.0,537.2ZM412.0,536.5 412.2,535.4 412.8,534.6 413.7,534.0 414.7,533.8 416.4,533.8 417.4,534.0 439.6,540.7 440.5,541.3 441.1,542.2 441.3,543.2 441.3,544.9 441.1,545.9 440.5,546.7 439.6,547.3 438.6,547.5 436.9,547.5 435.9,547.3 413.7,540.6 412.8,540.0 412.2,539.2 412.0,538.1ZM477.3,556.2 477.5,555.2 478.1,554.3 479.0,553.7 480.0,553.5 481.7,553.5 482.7,553.7 507.4,561.2 508.3,561.8 508.9,562.6 509.1,563.7 509.1,565.3 508.9,566.4 508.3,567.2 507.4,567.8 506.4,568.0 504.7,568.0 503.7,567.8 479.0,560.3 478.1,559.8 477.5,558.9 477.3,557.9ZM502.1,563.7 502.3,562.6 502.8,561.8 503.7,561.2 504.7,561.0 506.4,561.0 507.4,561.2 514.1,564.5 515.0,565.0 515.6,565.9 515.8,566.9 515.8,568.6 515.6,569.6 515.0,570.5 514.1,571.0 513.1,571.3 511.4,571.3 510.4,571.0 503.7,567.8 502.8,567.2 502.3,566.4 502.1,565.3ZM549.3,586.5 549.5,585.5 550.1,584.6 550.9,584.0 552.0,583.8 553.6,583.8 554.7,584.0 584.6,598.5 585.5,599.1 586.1,600.0 586.3,601.0 586.3,602.7 586.1,603.7 585.5,604.5 584.6,605.1 583.6,605.3 581.9,605.3 580.9,605.1 550.9,590.6 550.1,590.0 549.5,589.2 549.3,588.2ZM617.7,624.2 617.9,623.2 618.5,622.4 619.3,621.8 620.4,621.6 622.0,621.6 623.1,621.8 650.8,640.2 651.6,640.8 652.2,641.7 652.4,642.7 652.4,644.4 652.2,645.4 651.6,646.3 650.8,646.8 649.7,647.0 648.1,647.0 647.1,646.8 619.3,628.4 618.5,627.8 617.9,626.9 617.7,625.9ZM682.8,667.8 683.0,666.7 683.6,665.9 684.4,665.3 685.4,665.1 687.1,665.1 688.1,665.3 689.0,665.9 713.8,688.2 714.3,689.0 714.5,690.0 714.5,691.7 714.3,692.7 713.8,693.6 712.9,694.2 711.9,694.4 710.2,694.4 709.2,694.2 708.3,693.6 683.6,671.3 683.0,670.5 682.8,669.4ZM741.0,720.1 741.2,719.1 741.8,718.3 742.6,717.7 743.6,717.5 745.3,717.5 746.3,717.7 747.2,718.3 772.0,740.5 772.5,741.4 772.7,742.4 772.7,744.1 772.5,745.1 772.0,746.0 771.1,746.5 770.1,746.7 768.4,746.7 767.4,746.5 766.5,746.0 741.8,723.7 741.2,722.8 741.0,721.8ZM796.7,775.0 796.9,774.0 797.5,773.1 798.3,772.6 799.3,772.4 801.0,772.4 802.0,772.6 802.9,773.1 825.4,797.7 826.0,798.6 826.2,799.6 826.2,801.3 826.0,802.3 825.4,803.2 824.5,803.7 823.5,803.9 821.8,803.9 820.8,803.7 819.9,803.2 797.5,778.6 796.9,777.7 796.7,776.7ZM849.5,832.8 849.7,831.8 850.3,830.9 851.2,830.4 852.2,830.2 853.9,830.2 854.9,830.4 855.7,830.9 868.4,844.8 869.0,845.6 869.2,846.7 869.2,848.3 869.0,849.4 868.4,850.2 867.5,850.8 866.5,851.0 864.8,851.0 863.8,850.8 862.9,850.2 850.3,836.4 849.7,835.5 849.5,834.5ZM862.2,846.7 862.4,845.6 862.9,844.8 863.8,844.2 864.8,844.0 866.5,844.0 867.5,844.2 868.4,844.8 877.3,856.3 877.9,857.2 878.1,858.2 878.1,859.9 877.9,860.9 877.3,861.7 876.4,862.3 875.4,862.5 873.7,862.5 872.7,862.3 871.8,861.7 862.9,850.2 862.4,849.4 862.2,848.3ZM898.6,893.8 898.8,892.8 899.4,891.9 900.2,891.3 901.2,891.1 902.9,891.1 903.9,891.3 904.8,891.9 925.2,918.3 925.7,919.1 925.9,920.1 925.9,921.8 925.7,922.8 925.2,923.7 924.3,924.3 923.3,924.5 921.6,924.5 920.6,924.3 919.7,923.7 899.4,897.3 898.8,896.5 898.6,895.5ZM946.5,955.7 946.7,954.7 947.2,953.9 948.1,953.3 949.1,953.1 950.8,953.1 951.8,953.3 952.7,953.9 958.4,961.3 959.0,962.1 959.2,963.2 959.2,964.8 959.0,965.9 958.4,966.7 957.5,967.3 956.5,967.5 954.8,967.5 953.8,967.3 953.0,966.7 947.2,959.3 946.7,958.4 946.5,957.4ZM952.2,963.2 952.4,962.1 953.0,961.3 953.8,960.7 954.8,960.5 956.5,960.5 957.5,960.7 958.4,961.3 959.0,962.1 972.3,982.0 972.5,983.1 972.5,984.7 972.3,985.8 971.7,986.6 970.8,987.2 969.8,987.4 968.1,987.4 967.1,987.2 966.2,986.6 965.7,985.8 952.4,965.9 952.2,964.8ZM990.4,1020.5 990.6,1019.5 991.2,1018.6 992.1,1018.1 993.1,1017.9 994.8,1017.9 995.8,1018.1 996.6,1018.6 997.2,1019.5 1015.7,1047.2 1015.9,1048.2 1015.9,1049.9 1015.7,1050.9 1015.1,1051.8 1014.2,1052.4 1013.2,1052.6 1011.5,1052.6 1010.5,1052.4 1009.7,1051.8 1009.1,1050.9 990.6,1023.2 990.4,1022.2ZM1033.6,1042.5 1033.8,1041.5 1052.1,1013.6 1052.6,1012.8 1053.5,1012.2 1054.5,1012.0 1056.2,1012.0 1057.2,1012.2 1058.1,1012.8 1058.7,1013.6 1058.9,1014.7 1058.9,1016.3 1058.7,1017.4 1040.4,1045.2 1039.9,1046.1 1039.0,1046.7 1038.0,1046.9 1036.3,1046.9 1035.3,1046.7 1034.4,1046.1 1033.8,1045.2 1033.6,1044.2ZM1073.5,978.7 1073.7,977.7 1090.1,948.7 1090.7,947.8 1091.5,947.2 1092.6,947.0 1094.2,947.0 1095.2,947.2 1096.1,947.8 1096.7,948.7 1096.9,949.7 1096.9,951.4 1096.7,952.4 1080.3,981.4 1079.8,982.3 1078.9,982.8 1077.9,983.1 1076.2,983.1 1075.2,982.8 1074.3,982.3 1073.7,981.4 1073.5,980.4ZM1110.5,913.1 1110.7,912.1 1118.6,898.1 1119.2,897.3 1120.0,896.7 1121.1,896.5 1122.7,896.5 1123.8,896.7 1124.6,897.3 1125.2,898.1 1125.4,899.2 1125.4,900.8 1125.2,901.9 1117.3,915.8 1116.7,916.7 1115.9,917.3 1114.9,917.5 1113.2,917.5 1112.2,917.3 1111.3,916.7 1110.7,915.8 1110.5,914.8ZM1118.4,899.2 1118.6,898.1 1126.7,882.9 1127.3,882.0 1128.2,881.5 1129.2,881.3 1130.9,881.3 1131.9,881.5 1132.7,882.0 1133.3,882.9 1133.5,883.9 1133.5,885.6 1133.3,886.6 1125.2,901.9 1124.6,902.7 1123.8,903.3 1122.7,903.5 1121.1,903.5 1120.0,903.3 1119.2,902.7 1118.6,901.9 1118.4,900.8ZM1146.3,846.9 1146.5,845.8 1162.1,816.4 1162.7,815.6 1163.6,815.0 1164.6,814.8 1166.3,814.8 1167.3,815.0 1168.1,815.6 1168.7,816.4 1168.9,817.5 1168.9,819.1 1168.7,820.2 1153.1,849.5 1152.5,850.4 1151.6,851.0 1150.6,851.2 1148.9,851.2 1147.9,851.0 1147.0,850.4 1146.5,849.5 1146.3,848.5ZM1181.7,780.4 1181.9,779.4 1197.5,750.0 1198.1,749.1 1199.0,748.5 1200.0,748.3 1201.7,748.3 1202.7,748.5 1203.5,749.1 1204.1,750.0 1204.3,751.0 1204.3,752.7 1204.1,753.7 1188.5,783.1 1187.9,784.0 1187.0,784.5 1186.0,784.7 1184.3,784.7 1183.3,784.5 1182.4,784.0 1181.9,783.1 1181.7,782.1ZM1214.7,712.8 1214.9,711.8 1228.6,681.4 1229.2,680.5 1230.1,680.0 1231.1,679.8 1232.8,679.8 1233.8,680.0 1234.6,680.5 1235.2,681.4 1235.4,682.4 1235.4,684.1 1235.2,685.1 1221.5,715.5 1220.9,716.3 1220.1,716.9 1219.1,717.1 1217.4,717.1 1216.4,716.9 1215.5,716.3 1214.9,715.5 1214.7,714.5ZM1245.7,644.1 1245.9,643.1 1259.6,612.8 1260.2,611.9 1261.0,611.3 1262.1,611.1 1263.7,611.1 1264.8,611.3 1265.6,611.9 1266.2,612.8 1266.4,613.8 1266.4,615.5 1266.2,616.5 1252.5,646.8 1251.9,647.7 1251.1,648.3 1250.0,648.5 1248.4,648.5 1247.3,648.3 1246.5,647.7 1245.9,646.8 1245.7,645.8ZM1276.4,575.4 1276.7,574.4 1290.1,543.9 1290.6,543.1 1291.5,542.5 1292.5,542.3 1294.2,542.3 1295.2,542.5 1296.1,543.1 1296.7,543.9 1296.9,544.9 1296.9,546.6 1296.7,547.6 1283.2,578.1 1282.7,579.0 1281.8,579.5 1280.8,579.8 1279.1,579.8 1278.1,579.5 1277.2,579.0 1276.7,578.1 1276.4,577.1ZM1306.8,506.5 1307.0,505.5 1320.4,475.0 1321.0,474.1 1321.8,473.6 1322.8,473.3 1324.5,473.3 1325.5,473.6 1326.4,474.1 1327.0,475.0 1327.2,476.0 1327.2,477.7 1327.0,478.7 1313.6,509.2 1313.0,510.1 1312.1,510.6 1311.1,510.8 1309.4,510.8 1308.4,510.6 1307.6,510.1 1307.0,509.2 1306.8,508.2ZM1336.9,437.5 1337.1,436.5 1350.0,405.8 1350.6,404.9 1351.5,404.3 1352.5,404.1 1354.2,404.1 1355.2,404.3 1356.0,404.9 1356.6,405.8 1356.8,406.8 1356.8,408.5 1356.6,409.5 1343.7,440.2 1343.1,441.0 1342.3,441.6 1341.3,441.8 1339.6,441.8 1338.6,441.6 1337.7,441.0 1337.1,440.2 1336.9,439.2ZM1366.1,368.1 1366.3,367.1 1379.2,336.4 1379.8,335.5 1380.7,334.9 1381.7,334.7 1383.4,334.7 1384.4,334.9 1385.2,335.5 1385.8,336.4 1386.0,337.4 1386.0,339.1 1385.8,340.1 1372.9,370.8 1372.3,371.6 1371.5,372.2 1370.5,372.4 1368.8,372.4 1367.8,372.2 1366.9,371.6 1366.3,370.8 1366.1,369.8ZM1395.3,298.7 1395.5,297.6 1407.4,266.6 1408.0,265.7 1408.9,265.1 1409.9,264.9 1411.6,264.9 1412.6,265.1 1413.4,265.7 1414.0,266.6 1414.2,267.6 1414.2,269.3 1414.0,270.3 1402.1,301.4 1401.5,302.2 1400.7,302.8 1399.6,303.0 1398.0,303.0 1396.9,302.8 1396.1,302.2 1395.5,301.4 1395.3,300.3ZM1422.3,228.4 1422.5,227.3 1431.0,205.1 1431.6,204.3 1432.4,203.7 1433.5,203.5 1435.1,203.5 1436.2,203.7 1437.0,204.3 1437.6,205.1 1437.8,206.2 1437.8,207.8 1437.6,208.9 1429.1,231.1 1428.5,231.9 1427.6,232.5 1426.6,232.7 1424.9,232.7 1423.9,232.5 1423.1,231.9 1422.5,231.1 1422.3,230.0ZM1430.8,206.2 1431.0,205.1 1434.3,196.2 1434.9,195.3 1435.7,194.8 1436.8,194.6 1438.4,194.6 1439.5,194.8 1440.3,195.3 1440.9,196.2 1441.1,197.2 1441.1,198.9 1440.9,199.9 1437.6,208.9 1437.0,209.7 1436.2,210.3 1435.1,210.5 1433.5,210.5 1432.4,210.3 1431.6,209.7 1431.0,208.9 1430.8,207.8ZM1448.6,157.8 1448.8,156.8 1460.3,125.6 1460.9,124.7 1461.8,124.1 1462.8,123.9 1464.5,123.9 1465.5,124.1 1466.4,124.7 1466.9,125.6 1467.1,126.6 1467.1,128.3 1466.9,129.3 1455.4,160.5 1454.8,161.4 1454.0,162.0 1453.0,162.2 1451.3,162.2 1450.3,162.0 1449.4,161.4 1448.8,160.5 1448.6,159.5ZM1474.7,87.2 1474.9,86.1 1483.7,62.1 1484.3,61.3 1485.1,60.7 1486.2,60.5 1487.8,60.5 1488.9,60.7 1489.7,61.3 1490.3,62.1 1490.5,63.2 1490.5,64.8 1490.3,65.9 1481.5,89.9 1480.9,90.7 1480.0,91.3 1479.0,91.5 1477.3,91.5 1476.3,91.3 1475.4,90.7 1474.9,89.9 1474.7,88.8ZM1483.5,63.2 1483.7,62.1 1486.4,54.9 1486.9,54.0 1487.8,53.5 1488.8,53.3 1490.5,53.3 1491.5,53.5 1492.4,54.0 1493.0,54.9 1493.2,55.9 1493.2,57.6 1493.0,58.6 1490.3,65.9 1489.7,66.7 1488.9,67.3 1487.8,67.5 1486.2,67.5 1485.1,67.3 1484.3,66.7 1483.7,65.9 1483.5,64.8Z" fill="#00f"/>
<path d="M323.0,532.0 323.2,531.0 323.8,530.2 324.6,529.6 325.7,529.4 327.3,529.4 333.3,529.9 334.3,530.1 335.2,530.7 335.8,531.6 336.0,532.6 336.0,534.3 335.8,535.3 335.2,536.1 334.3,536.7 333.3,536.9 331.6,536.9 325.7,536.4 324.6,536.2 323.8,535.6 323.2,534.7 323.0,533.7ZM369.7,536.2 369.9,535.2 370.4,534.3 371.3,533.7 372.3,533.5 374.0,533.5 380.0,534.1 381.0,534.3 381.9,534.8 382.4,535.7 382.6,536.7 382.6,538.4 382.4,539.4 381.9,540.3 381.0,540.9 380.0,541.1 378.3,541.1 372.3,540.5 371.3,540.3 370.4,539.8 369.9,538.9 369.7,537.9ZM416.2,541.2 416.4,540.2 416.9,539.3 417.8,538.8 418.8,538.5 420.5,538.5 421.5,538.8 427.3,540.5 428.1,541.1 428.7,541.9 428.9,542.9 428.9,544.6 428.7,545.6 428.1,546.5 427.3,547.1 426.2,547.3 424.6,547.3 423.5,547.1 417.8,545.3 416.9,544.8 416.4,543.9 416.2,542.9ZM461.0,554.8 461.2,553.7 461.8,552.9 462.6,552.3 463.7,552.1 465.3,552.1 466.4,552.3 472.1,554.0 473.0,554.6 473.6,555.5 473.8,556.5 473.8,558.2 473.6,559.2 473.0,560.1 472.1,560.6 471.1,560.8 469.4,560.8 468.4,560.6 462.6,558.9 461.8,558.3 461.2,557.5 461.0,556.4ZM505.6,568.9 505.8,567.9 506.4,567.0 507.3,566.4 508.3,566.2 510.0,566.2 511.0,566.4 516.4,569.0 517.3,569.6 517.8,570.5 518.0,571.5 518.0,573.2 517.8,574.2 517.3,575.1 516.4,575.6 515.4,575.8 513.7,575.8 512.7,575.6 507.3,573.0 506.4,572.4 505.8,571.6 505.6,570.6ZM547.8,589.3 548.0,588.3 548.6,587.4 549.5,586.8 550.5,586.6 552.2,586.6 553.2,586.8 558.6,589.4 559.4,590.0 560.0,590.9 560.2,591.9 560.2,593.6 560.0,594.6 559.4,595.4 558.6,596.0 557.6,596.2 555.9,596.2 554.9,596.0 549.5,593.4 548.6,592.8 548.0,592.0 547.8,591.0ZM590.0,609.7 590.2,608.6 590.8,607.8 591.6,607.2 592.7,607.0 594.3,607.0 595.4,607.2 597.4,608.2 598.3,608.8 598.9,609.6 599.1,610.7 599.1,612.3 598.9,613.4 598.3,614.2 597.4,614.8 596.4,615.0 594.7,615.0 593.7,614.8 591.6,613.8 590.8,613.2 590.2,612.4 590.0,611.3ZM592.1,610.7 592.3,609.6 592.9,608.8 593.7,608.2 594.7,608.0 596.4,608.0 597.4,608.2 600.5,610.2 601.4,610.8 601.9,611.7 602.1,612.7 602.1,614.4 601.9,615.4 601.4,616.3 600.5,616.8 599.5,617.0 597.8,617.0 596.8,616.8 593.7,614.8 592.9,614.2 592.3,613.4 592.1,612.3ZM629.1,635.4 629.3,634.3 629.9,633.5 630.8,632.9 631.8,632.7 633.5,632.7 634.5,632.9 639.5,636.2 640.4,636.8 640.9,637.7 641.1,638.7 641.1,640.4 640.9,641.4 640.4,642.2 639.5,642.8 638.5,643.0 636.8,643.0 635.8,642.8 630.8,639.5 629.9,638.9 629.3,638.1 629.1,637.0ZM668.1,661.3 668.3,660.3 668.9,659.5 669.8,658.9 670.8,658.7 672.5,658.7 673.5,658.9 678.5,662.2 679.3,662.8 679.9,663.7 680.1,664.7 680.1,666.4 679.9,667.4 679.3,668.2 678.5,668.8 677.5,669.0 675.8,669.0 674.8,668.8 669.8,665.5 668.9,664.9 668.3,664.0 668.1,663.0ZM704.4,690.8 704.6,689.7 705.2,688.9 706.1,688.3 707.1,688.1 708.8,688.1 709.8,688.3 710.7,688.9 715.1,692.9 715.7,693.8 715.9,694.8 715.9,696.5 715.7,697.5 715.1,698.3 714.3,698.9 713.2,699.1 711.6,699.1 710.5,698.9 709.7,698.3 705.2,694.3 704.6,693.5 704.4,692.4ZM739.3,722.1 739.5,721.1 740.1,720.2 740.9,719.6 741.9,719.4 743.6,719.4 744.6,719.6 745.5,720.2 750.0,724.2 750.5,725.1 750.7,726.1 750.7,727.8 750.5,728.8 750.0,729.7 749.1,730.2 748.1,730.4 746.4,730.4 745.4,730.2 744.5,729.7 740.1,725.7 739.5,724.8 739.3,723.8ZM773.9,753.6 774.1,752.6 774.7,751.7 775.6,751.2 776.6,751.0 778.3,751.0 779.3,751.2 780.1,751.7 784.2,756.2 784.8,757.0 785.0,758.0 785.0,759.7 784.8,760.7 784.2,761.6 783.3,762.2 782.3,762.4 780.6,762.4 779.6,762.2 778.7,761.6 774.7,757.2 774.1,756.3 773.9,755.3ZM805.5,788.2 805.7,787.2 806.3,786.3 807.2,785.7 808.2,785.5 809.9,785.5 810.9,785.7 811.7,786.3 815.8,790.7 816.4,791.6 816.6,792.6 816.6,794.3 816.4,795.3 815.8,796.2 814.9,796.8 813.9,797.0 812.2,797.0 811.2,796.8 810.4,796.2 806.3,791.8 805.7,790.9 805.5,789.9ZM837.1,822.8 837.3,821.8 837.9,820.9 838.8,820.3 839.8,820.1 841.5,820.1 842.5,820.3 843.4,820.9 847.4,825.3 848.0,826.2 848.2,827.2 848.2,828.9 848.0,829.9 847.4,830.8 846.5,831.3 845.5,831.5 843.8,831.5 842.8,831.3 842.0,830.8 837.9,826.3 837.3,825.5 837.1,824.5ZM868.1,857.9 868.3,856.9 868.9,856.0 869.8,855.4 870.8,855.2 872.5,855.2 873.5,855.4 874.3,856.0 878.0,860.7 878.6,861.6 878.8,862.6 878.8,864.3 878.6,865.3 878.0,866.2 877.1,866.8 876.1,867.0 874.5,867.0 873.4,866.8 872.6,866.2 868.9,861.4 868.3,860.6 868.1,859.6ZM896.8,894.9 897.0,893.9 897.5,893.1 898.4,892.5 899.4,892.3 901.1,892.3 902.1,892.5 903.0,893.1 906.7,897.8 907.2,898.7 907.4,899.7 907.4,901.4 907.2,902.4 906.7,903.3 905.8,903.8 904.8,904.0 903.1,904.0 902.1,903.8 901.2,903.3 897.5,898.5 897.0,897.6 896.8,896.6ZM925.4,932.0 925.6,931.0 926.2,930.1 927.1,929.6 928.1,929.4 929.8,929.4 930.8,929.6 931.6,930.1 935.3,934.9 935.9,935.7 936.1,936.8 936.1,938.4 935.9,939.5 935.3,940.3 934.4,940.9 933.4,941.1 931.7,941.1 930.7,940.9 929.9,940.3 926.2,935.6 925.6,934.7 925.4,933.7ZM953.9,969.2 954.1,968.2 954.7,967.3 955.6,966.7 956.6,966.5 958.3,966.5 959.3,966.7 960.1,967.3 963.5,972.3 964.1,973.2 964.3,974.2 964.3,975.8 964.1,976.9 963.5,977.7 962.6,978.3 961.6,978.5 959.9,978.5 958.9,978.3 958.1,977.7 954.7,972.8 954.1,971.9 953.9,970.9ZM980.2,1008.0 980.4,1007.0 981.0,1006.1 981.8,1005.5 982.9,1005.3 984.5,1005.3 985.6,1005.5 986.4,1006.1 989.8,1011.1 990.4,1011.9 990.6,1012.9 990.6,1014.6 990.4,1015.6 989.8,1016.5 988.9,1017.1 987.9,1017.3 986.2,1017.3 985.2,1017.1 984.4,1016.5 981.0,1011.5 980.4,1010.7 980.2,1009.7ZM1006.5,1046.8 1006.7,1045.7 1007.3,1044.9 1008.1,1044.3 1009.2,1044.1 1010.8,1044.1 1011.9,1044.3 1012.7,1044.9 1016.1,1049.8 1016.7,1050.7 1016.9,1051.7 1016.9,1053.4 1016.7,1054.4 1016.1,1055.3 1015.2,1055.9 1014.2,1056.1 1012.5,1056.1 1011.5,1055.9 1010.6,1055.3 1007.3,1050.3 1006.7,1049.5 1006.5,1048.4ZM1030.0,1045.9 1030.2,1044.8 1033.5,1039.8 1034.1,1038.9 1034.9,1038.3 1035.9,1038.1 1037.6,1038.1 1038.6,1038.3 1039.5,1038.9 1040.1,1039.8 1040.3,1040.8 1040.3,1042.5 1040.1,1043.5 1036.8,1048.6 1036.3,1049.4 1035.4,1050.0 1034.4,1050.2 1032.7,1050.2 1031.7,1050.0 1030.8,1049.4 1030.2,1048.6 1030.0,1047.5ZM1054.5,1007.8 1054.7,1006.8 1057.9,1001.7 1058.5,1000.9 1059.3,1000.3 1060.3,1000.1 1062.0,1000.1 1063.0,1000.3 1063.9,1000.9 1064.5,1001.7 1064.7,1002.8 1064.7,1004.4 1064.5,1005.5 1061.2,1010.5 1060.7,1011.4 1059.8,1011.9 1058.8,1012.2 1057.1,1012.2 1056.1,1011.9 1055.2,1011.4 1054.7,1010.5 1054.5,1009.5ZM1077.2,968.7 1077.4,967.7 1080.3,962.5 1080.9,961.6 1081.7,961.1 1082.8,960.9 1084.4,960.9 1085.5,961.1 1086.3,961.6 1086.9,962.5 1087.1,963.5 1087.1,965.2 1086.9,966.2 1084.0,971.4 1083.4,972.3 1082.5,972.9 1081.5,973.1 1079.8,973.1 1078.8,972.9 1077.9,972.3 1077.4,971.4 1077.2,970.4ZM1099.4,929.4 1099.6,928.4 1102.5,923.1 1103.1,922.3 1103.9,921.7 1105.0,921.5 1106.6,921.5 1107.7,921.7 1108.5,922.3 1109.1,923.1 1109.3,924.1 1109.3,925.8 1109.1,926.8 1106.2,932.1 1105.6,932.9 1104.7,933.5 1103.7,933.7 1102.0,933.7 1101.0,933.5 1100.1,932.9 1099.6,932.1 1099.4,931.1ZM1121.3,889.9 1121.5,888.9 1124.4,883.6 1124.9,882.7 1125.8,882.1 1126.8,881.9 1128.5,881.9 1129.5,882.1 1130.4,882.7 1131.0,883.6 1131.2,884.6 1131.2,886.3 1131.0,887.3 1128.1,892.6 1127.6,893.4 1126.7,894.0 1125.7,894.2 1124.0,894.2 1123.0,894.0 1122.1,893.4 1121.5,892.6 1121.3,891.6ZM1142.6,850.0 1142.8,849.0 1145.6,843.7 1146.2,842.8 1147.1,842.2 1148.1,842.0 1149.8,842.0 1150.8,842.2 1151.6,842.8 1152.2,843.7 1152.4,844.7 1152.4,846.4 1152.2,847.4 1149.4,852.7 1148.8,853.5 1148.0,854.1 1146.9,854.3 1145.3,854.3 1144.2,854.1 1143.4,853.5 1142.8,852.7 1142.6,851.7ZM1163.8,810.1 1164.0,809.1 1166.9,803.8 1167.4,802.9 1168.3,802.3 1169.3,802.1 1171.0,802.1 1172.0,802.3 1172.9,802.9 1173.5,803.8 1173.7,804.8 1173.7,806.5 1173.5,807.5 1170.6,812.8 1170.1,813.7 1169.2,814.2 1168.2,814.4 1166.5,814.4 1165.5,814.2 1164.6,813.7 1164.0,812.8 1163.8,811.8ZM1185.1,770.2 1185.3,769.2 1188.1,763.9 1188.7,763.0 1189.6,762.4 1190.6,762.2 1192.3,762.2 1193.3,762.4 1194.1,763.0 1194.7,763.9 1194.9,764.9 1194.9,766.6 1194.7,767.6 1191.9,772.9 1191.3,773.8 1190.5,774.3 1189.4,774.5 1187.8,774.5 1186.7,774.3 1185.9,773.8 1185.3,772.9 1185.1,771.9ZM1205.1,729.7 1205.3,728.7 1207.8,723.2 1208.3,722.3 1209.2,721.8 1210.2,721.6 1211.9,721.6 1212.9,721.8 1213.8,722.3 1214.4,723.2 1214.6,724.2 1214.6,725.9 1214.4,726.9 1211.9,732.4 1211.3,733.3 1210.4,733.8 1209.4,734.0 1207.7,734.0 1206.7,733.8 1205.9,733.3 1205.3,732.4 1205.1,731.4ZM1223.7,688.5 1223.9,687.5 1226.4,682.0 1226.9,681.1 1227.8,680.6 1228.8,680.4 1230.5,680.4 1231.5,680.6 1232.4,681.1 1232.9,682.0 1233.1,683.0 1233.1,684.7 1232.9,685.7 1230.5,691.2 1229.9,692.1 1229.0,692.6 1228.0,692.8 1226.3,692.8 1225.3,692.6 1224.5,692.1 1223.9,691.2 1223.7,690.2ZM1242.3,647.3 1242.5,646.3 1244.9,640.8 1245.5,639.9 1246.4,639.4 1247.4,639.2 1249.1,639.2 1250.1,639.4 1251.0,639.9 1251.5,640.8 1251.7,641.8 1251.7,643.5 1251.5,644.5 1249.1,650.0 1248.5,650.9 1247.6,651.4 1246.6,651.6 1244.9,651.6 1243.9,651.4 1243.1,650.9 1242.5,650.0 1242.3,649.0ZM1260.9,606.1 1261.1,605.1 1263.5,599.6 1264.1,598.7 1265.0,598.2 1266.0,598.0 1267.7,598.0 1268.7,598.2 1269.6,598.7 1270.1,599.6 1270.3,600.6 1270.3,602.3 1270.1,603.3 1267.7,608.8 1267.1,609.7 1266.2,610.2 1265.2,610.4 1263.5,610.4 1262.5,610.2 1261.6,609.7 1261.1,608.8 1260.9,607.8ZM1279.1,564.8 1279.3,563.7 1281.8,558.2 1282.3,557.4 1283.2,556.8 1284.2,556.6 1285.9,556.6 1286.9,556.8 1287.8,557.4 1288.4,558.2 1288.6,559.3 1288.6,560.9 1288.4,562.0 1285.9,567.5 1285.4,568.3 1284.5,568.9 1283.5,569.1 1281.8,569.1 1280.8,568.9 1279.9,568.3 1279.3,567.5 1279.1,566.4ZM1297.3,523.4 1297.5,522.4 1300.0,516.9 1300.5,516.0 1301.4,515.4 1302.4,515.2 1304.1,515.2 1305.1,515.4 1306.0,516.0 1306.6,516.9 1306.8,517.9 1306.8,519.6 1306.6,520.6 1304.1,526.1 1303.6,526.9 1302.7,527.5 1301.7,527.7 1300.0,527.7 1299.0,527.5 1298.1,526.9 1297.5,526.1 1297.3,525.1ZM1315.5,482.0 1315.7,481.0 1318.2,475.5 1318.7,474.6 1319.6,474.1 1320.6,473.9 1322.3,473.9 1323.3,474.1 1324.2,474.6 1324.8,475.5 1325.0,476.5 1325.0,478.2 1324.8,479.2 1322.3,484.7 1321.8,485.6 1320.9,486.1 1319.9,486.3 1318.2,486.3 1317.2,486.1 1316.3,485.6 1315.7,484.7 1315.5,483.7ZM1333.6,440.6 1333.8,439.6 1336.1,434.0 1336.7,433.2 1337.6,432.6 1338.6,432.4 1340.3,432.4 1341.3,432.6 1342.2,433.2 1342.7,434.0 1342.9,435.0 1342.9,436.7 1342.7,437.7 1340.4,443.3 1339.8,444.1 1339.0,444.7 1338.0,444.9 1336.3,444.9 1335.3,444.7 1334.4,444.1 1333.8,443.3 1333.6,442.3ZM1351.1,398.9 1351.3,397.9 1353.7,392.4 1354.2,391.5 1355.1,390.9 1356.1,390.7 1357.8,390.7 1358.8,390.9 1359.7,391.5 1360.3,392.4 1360.5,393.4 1360.5,395.1 1360.3,396.1 1357.9,401.6 1357.4,402.5 1356.5,403.1 1355.5,403.3 1353.8,403.3 1352.8,403.1 1351.9,402.5 1351.3,401.6 1351.1,400.6ZM1368.7,357.2 1368.9,356.2 1371.2,350.7 1371.8,349.8 1372.6,349.3 1373.7,349.1 1375.3,349.1 1376.3,349.3 1377.2,349.8 1377.8,350.7 1378.0,351.7 1378.0,353.4 1377.8,354.4 1375.5,359.9 1374.9,360.8 1374.0,361.4 1373.0,361.6 1371.3,361.6 1370.3,361.4 1369.4,360.8 1368.9,359.9 1368.7,358.9ZM1386.2,315.6 1386.4,314.6 1388.7,309.0 1389.3,308.2 1390.2,307.6 1391.2,307.4 1392.9,307.4 1393.9,307.6 1394.7,308.2 1395.3,309.0 1395.5,310.1 1395.5,311.7 1395.3,312.8 1393.0,318.3 1392.4,319.1 1391.5,319.7 1390.5,319.9 1388.8,319.9 1387.8,319.7 1387.0,319.1 1386.4,318.3 1386.2,317.3ZM1402.9,273.6 1403.1,272.6 1405.3,267.0 1405.8,266.1 1406.7,265.5 1407.7,265.3 1409.4,265.3 1410.4,265.5 1411.3,266.1 1411.9,267.0 1412.1,268.0 1412.1,269.7 1411.9,270.7 1409.7,276.3 1409.1,277.2 1408.3,277.7 1407.3,277.9 1405.6,277.9 1404.6,277.7 1403.7,277.2 1403.1,276.3 1402.9,275.3ZM1419.1,231.4 1419.3,230.4 1421.5,224.8 1422.0,223.9 1422.9,223.3 1423.9,223.1 1425.6,223.1 1426.6,223.3 1427.5,223.9 1428.1,224.8 1428.3,225.8 1428.3,227.5 1428.1,228.5 1425.9,234.1 1425.3,235.0 1424.5,235.5 1423.5,235.7 1421.8,235.7 1420.8,235.5 1419.9,235.0 1419.3,234.1 1419.1,233.1ZM1435.1,189.1 1435.3,188.1 1437.4,182.5 1437.9,181.6 1438.8,181.0 1439.8,180.8 1441.5,180.8 1442.5,181.0 1443.4,181.6 1444.0,182.5 1444.2,183.5 1444.2,185.2 1444.0,186.2 1441.9,191.8 1441.3,192.7 1440.4,193.3 1439.4,193.5 1437.7,193.5 1436.7,193.3 1435.9,192.7 1435.3,191.8 1435.1,190.8ZM1450.7,146.7 1450.9,145.7 1453.0,140.1 1453.6,139.2 1454.4,138.6 1455.4,138.4 1457.1,138.4 1458.1,138.6 1459.0,139.2 1459.6,140.1 1459.8,141.1 1459.8,142.8 1459.6,143.8 1457.5,149.4 1456.9,150.3 1456.1,150.8 1455.1,151.0 1453.4,151.0 1452.4,150.8 1451.5,150.3 1450.9,149.4 1450.7,148.4ZM1466.3,104.3 1466.5,103.3 1468.6,97.6 1469.2,96.8 1470.1,96.2 1471.1,96.0 1472.8,96.0 1473.8,96.2 1474.6,96.8 1475.2,97.6 1475.4,98.7 1475.4,100.3 1475.2,101.4 1473.1,107.0 1472.6,107.9 1471.7,108.4 1470.7,108.6 1469.0,108.6 1468.0,108.4 1467.1,107.9 1466.5,107.0 1466.3,106.0ZM1482.0,61.9 1482.2,60.9 1484.2,55.2 1484.8,54.4 1485.7,53.8 1486.7,53.6 1488.4,53.6 1489.4,53.8 1490.3,54.4 1490.8,55.2 1491.0,56.3 1491.0,57.9 1490.8,59.0 1488.8,64.6 1488.2,65.4 1487.3,66.0 1486.3,66.2 1484.6,66.2 1483.6,66.0 1482.8,65.4 1482.2,64.6 1482.0,63.6ZM1497.6,19.5 1497.8,18.5 1497.9,18.1 1498.5,17.3 1499.4,16.7 1500.4,16.5 1502.1,16.5 1503.1,16.7 1503.9,17.3 1504.5,18.1 1504.7,19.2 1504.7,20.8 1504.5,21.9 1504.4,22.2 1503.8,23.0 1503.0,23.6 1501.9,23.8 1500.3,23.8 1499.2,23.6 1498.4,23.0 1497.8,22.2 1497.6,21.2Z" fill="#00f"/>
</g>
<g stroke="#000" stroke-width="4.2" fill="none" stroke-linecap="butt" shape-rendering="crispEdges">
<path d="M892.2,484.7 L771.4,484.7" stroke-width="5.2"/>
<path d="M892.2,484.7 L645.3,511.2"/>
<path d="M892.2,484.7 L674,536.6"/>
<path d="M928.5,547.0 L696,566.5"/>
<path d="M928.5,547.0 L579,602.4"/>
<path d="M928.5,547.0 L600,614.6"/>
<path d="M963.6,611.5 L758.4,645.8"/>
<path d="M963.6,611.5 L677.8,684.7"/>
<path d="M963.6,611.5 L696,713.3"/>
</g>
<g stroke="#000" fill="none" shape-rendering="crispEdges">
<rect x="325.5" y="60.5" width="1350.4" height="1004.5" stroke-width="7.4"/>
<path d="M328.2,1065.0 h19" stroke-width="7"/>
<path d="M328.2,730.2 h19" stroke-width="7"/>
<path d="M328.2,395.3 h19" stroke-width="7"/>
<path d="M328.2,60.5 h19" stroke-width="7"/>
<path d="M328.2,897.6 h8" stroke-width="7"/>
<path d="M328.2,562.8 h8" stroke-width="7"/>
<path d="M328.2,227.9 h8" stroke-width="7"/>
<path d="M328.2,1065.0 h19" stroke-width="7"/>
<path d="M328.2,864.1 h19" stroke-width="7"/>
<path d="M328.2,663.2 h19" stroke-width="7"/>
<path d="M328.2,462.3 h19" stroke-width="7"/>
<path d="M328.2,261.4 h19" stroke-width="7"/>
<path d="M328.2,60.5 h19" stroke-width="7"/>
<path d="M328.2,964.5 h8" stroke-width="7"/>
<path d="M328.2,763.6 h8" stroke-width="7"/>
<path d="M328.2,562.8 h8" stroke-width="7"/>
<path d="M328.2,361.9 h8" stroke-width="7"/>
<path d="M328.2,161.0 h8" stroke-width="7"/>
<path d="M595.6,1062.3 v-17" stroke-width="7"/>
<path d="M865.7,1062.3 v-17" stroke-width="7"/>
<path d="M1135.7,1062.3 v-17" stroke-width="7"/>
<path d="M1405.8,1062.3 v-17" stroke-width="7"/>
<path d="M460.5,1062.3 v-7" stroke-width="7"/>
<path d="M730.6,1062.3 v-7" stroke-width="7"/>
<path d="M1000.7,1062.3 v-7" stroke-width="7"/>
<path d="M1270.8,1062.3 v-7" stroke-width="7"/>
<path d="M1540.9,1062.3 v-7" stroke-width="7"/>
</g>
<g stroke="#000" fill="none" stroke-linecap="round">
<path d="M420.5,105.7 H503" stroke-width="9"/>
<path d="M420.5,165.5 H453.5" stroke-width="9"/>
<path d="M502,165.5 H503.5" stroke-width="9"/>
<path d="M421.5,224 H423.5 M469.5,224 H471.5" stroke-width="10"/>
</g>
<g>
<text transform="translate(151.60,79.10) scale(1.0750,1)" font-size="62" font-weight="bold" fill="#000" letter-spacing="0.262" xml:space="preserve">0.015</text>
<text transform="translate(151.60,412.90) scale(1.0750,1)" font-size="62" font-weight="bold" fill="#000" letter-spacing="0.262" xml:space="preserve">0.010</text>
<text transform="translate(151.60,747.70) scale(1.0750,1)" font-size="62" font-weight="bold" fill="#000" letter-spacing="0.262" xml:space="preserve">0.005</text>
<text transform="translate(151.60,1082.00) scale(1.0750,1)" font-size="62" font-weight="bold" fill="#000" letter-spacing="0.262" xml:space="preserve">0.000</text>
<text transform="translate(284.15,1134.00) scale(1.0750,1)" font-size="62" font-weight="bold" fill="#000" letter-spacing="0.570" xml:space="preserve">0.0</text>
<text transform="translate(553.85,1134.00) scale(1.0750,1)" font-size="62" font-weight="bold" fill="#000" letter-spacing="0.244" xml:space="preserve">0.2</text>
<text transform="translate(823.87,1134.00) scale(1.0635,1)" font-size="62" font-weight="bold" fill="#000" xml:space="preserve">0.4</text>
<text transform="translate(1094.87,1134.00) scale(1.0642,1)" font-size="62" font-weight="bold" fill="#000" xml:space="preserve">0.6</text>
<text transform="translate(1363.25,1134.00) scale(1.0750,1)" font-size="62" font-weight="bold" fill="#000" letter-spacing="0.988" xml:space="preserve">0.8</text>
<text transform="translate(1633.33,1134.00) scale(1.0750,1)" font-size="62" font-weight="bold" fill="#000" letter-spacing="0.628" xml:space="preserve">1.0</text>
<text transform="translate(517.67,117.00) scale(1.0750,1)" font-size="47" font-weight="bold" fill="#000" letter-spacing="0.283" xml:space="preserve">Porosity distribution 1 (symmetric)</text>
<text transform="translate(517.42,176.25) scale(1.0750,1)" font-size="47" font-weight="bold" fill="#000" letter-spacing="0.260" xml:space="preserve">Porosity distribution 2 (asymmetric)</text>
<text transform="translate(517.42,235.75) scale(1.0750,1)" font-size="47" font-weight="bold" fill="#000" letter-spacing="0.292" xml:space="preserve">Porosity distribution 3</text>
<text transform="translate(784.25,311.75) scale(1.0750,1)" font-size="47" font-weight="bold" fill="#000" letter-spacing="0.671" xml:space="preserve">A:GPL A (symmetric)</text>
<text transform="translate(785.17,376.25) scale(1.0750,1)" font-size="47" font-weight="bold" fill="#f00" letter-spacing="0.310" xml:space="preserve">B:GPL B (asymmetric)</text>
<text transform="translate(782.85,440.00) scale(1.0750,1)" font-size="47" font-weight="bold" fill="#00f" letter-spacing="0.922" xml:space="preserve">C:GPL C</text>
<text transform="translate(911.60,499.00) scale(1.0324,1)" font-size="47" font-weight="bold" fill="#000" xml:space="preserve">A</text>
<text transform="translate(936.64,560.00) scale(1.1786,1)" font-size="47" font-weight="bold" fill="#00f" xml:space="preserve">C</text>
<text transform="translate(974.82,627.60) scale(0.9793,1)" font-size="47" font-weight="bold" fill="#f00" xml:space="preserve">B</text>
<text transform="translate(982.60,1205.00) scale(1.2000,1)" font-size="64" font-weight="bold" font-style="italic" fill="#000" xml:space="preserve">θ</text>
<text transform="translate(375.85,757.50) scale(1.0750,1)" font-size="46" font-weight="bold" fill="#000" letter-spacing="2.465" xml:space="preserve">C-C</text>
<text transform="translate(481.50,757.50) scale(1.0000,1)" font-size="46" font-weight="bold" fill="#000" xml:space="preserve">,</text>
<text transform="translate(505.00,757.50) scale(1.2500,1)" font-size="46" font-weight="bold" fill="#000" xml:space="preserve">e</text>
<text transform="translate(528.86,770.00) scale(1.1364,1)" font-size="27" font-weight="bold" fill="#000" xml:space="preserve">0</text>
<text transform="translate(555.11,757.50) scale(1.1932,1)" font-size="46" font-weight="bold" fill="#000" xml:space="preserve">=</text>
<text transform="translate(596.60,757.50) scale(1.0750,1)" font-size="46" font-weight="bold" fill="#000" letter-spacing="2.070" xml:space="preserve">0.5</text>
<text transform="translate(378.00,831.25) scale(0.9697,1)" font-size="46" font-weight="normal" fill="#000" xml:space="preserve">Λ</text>
<text transform="translate(424.43,844.50) scale(1.0750,1)" font-size="27" font-weight="bold" fill="#000" letter-spacing="0.244" xml:space="preserve">GPL</text>
<text transform="translate(494.45,831.25) scale(1.2727,1)" font-size="46" font-weight="bold" fill="#000" xml:space="preserve">=</text>
<text transform="translate(539.45,831.25) scale(1.0750,1)" font-size="46" font-weight="bold" fill="#000" letter-spacing="0.744" xml:space="preserve">1.0</text>
<text transform="translate(617.50,831.25) scale(1.0750,1)" font-size="46" font-weight="bold" fill="#000" letter-spacing="0.884" xml:space="preserve">wt.%</text>
<text transform="translate(378.00,909.50) scale(1.0750,1)" font-size="46" font-weight="bold" font-style="italic" fill="#000" letter-spacing="0.558" xml:space="preserve">L/h</text>
<text transform="translate(460.45,909.50) scale(1.2727,1)" font-size="46" font-weight="bold" fill="#000" xml:space="preserve">=</text>
<text transform="translate(503.85,909.50) scale(1.0750,1)" font-size="46" font-weight="bold" fill="#000" letter-spacing="1.605" xml:space="preserve">20,</text>
<text transform="translate(593.58,909.50) scale(1.2115,1)" font-size="46" font-weight="normal" fill="#000" xml:space="preserve">Δ</text>
<text transform="translate(643.12,909.50) scale(1.0962,1)" font-size="46" font-weight="bold" font-style="italic" fill="#000" xml:space="preserve">T</text>
<text transform="translate(683.45,909.50) scale(1.2727,1)" font-size="46" font-weight="bold" fill="#000" xml:space="preserve">=</text>
<text transform="translate(726.68,909.50) scale(1.1579,1)" font-size="46" font-weight="bold" fill="#000" xml:space="preserve">0</text>
<text transform="translate(768.97,909.50) scale(1.0294,1)" font-size="46" font-weight="bold" fill="#000" xml:space="preserve">K</text>
<text transform="translate(377.25,971.00) scale(0.8750,1)" font-size="46" font-weight="bold" font-style="italic" fill="#000" xml:space="preserve">(</text>
<text transform="translate(395.00,971.00) scale(1.0606,1)" font-size="46" font-weight="bold" font-style="italic" fill="#000" xml:space="preserve">K</text>
<text transform="translate(429.90,985.30) scale(0.9043,1)" font-size="34" font-weight="bold" font-style="italic" fill="#000" xml:space="preserve">w</text>
<text transform="translate(463.44,971.00) scale(0.9444,1)" font-size="46" font-weight="bold" font-style="italic" fill="#000" xml:space="preserve">,</text>
<text transform="translate(477.50,971.00) scale(1.0606,1)" font-size="46" font-weight="bold" font-style="italic" fill="#000" xml:space="preserve">K</text>
<text transform="translate(510.40,985.30) scale(1.0750,1)" font-size="34" font-weight="bold" font-style="italic" fill="#000" xml:space="preserve">s</text>
<text transform="translate(531.20,971.00) scale(1.2333,1)" font-size="46" font-weight="bold" font-style="italic" fill="#000" xml:space="preserve">)</text>
<text transform="translate(559.91,971.00) scale(1.2955,1)" font-size="46" font-weight="bold" fill="#000" xml:space="preserve">=</text>
<text transform="translate(603.85,971.00) scale(1.0750,1)" font-size="46" font-weight="bold" fill="#000" letter-spacing="1.093" xml:space="preserve">(0,0)</text>
<text transform="translate(377.50,1044.00) scale(1.0893,1)" font-size="46" font-weight="bold" font-style="italic" fill="#000" xml:space="preserve">P</text>
<text transform="translate(407.50,1057.50) scale(1.0500,1)" font-size="27" font-weight="bold" font-style="italic" fill="#000" xml:space="preserve">s</text>
<text transform="translate(431.05,1044.00) scale(1.1842,1)" font-size="46" font-weight="bold" font-style="italic" fill="#000" xml:space="preserve">/</text>
<text transform="translate(460.00,1044.00) scale(1.0893,1)" font-size="46" font-weight="bold" font-style="italic" fill="#000" xml:space="preserve">P</text>
<text transform="translate(490.00,1057.50) scale(0.9783,1)" font-size="27" font-weight="bold" font-style="italic" fill="#000" xml:space="preserve">cr</text>
<text transform="translate(525.00,1044.00) scale(1.2500,1)" font-size="46" font-weight="bold" fill="#000" xml:space="preserve">=</text>
<text transform="translate(567.85,1044.00) scale(1.0750,1)" font-size="46" font-weight="bold" fill="#000" letter-spacing="2.070" xml:space="preserve">0.5</text>
</g>
<text transform="translate(71,569.0) rotate(-90)" font-size="71" font-weight="bold" font-style="italic">P</text><text transform="translate(91.2,528.5) rotate(-90)" font-size="47" font-weight="bold" font-style="italic">d</text>
</svg>
</body></html>
